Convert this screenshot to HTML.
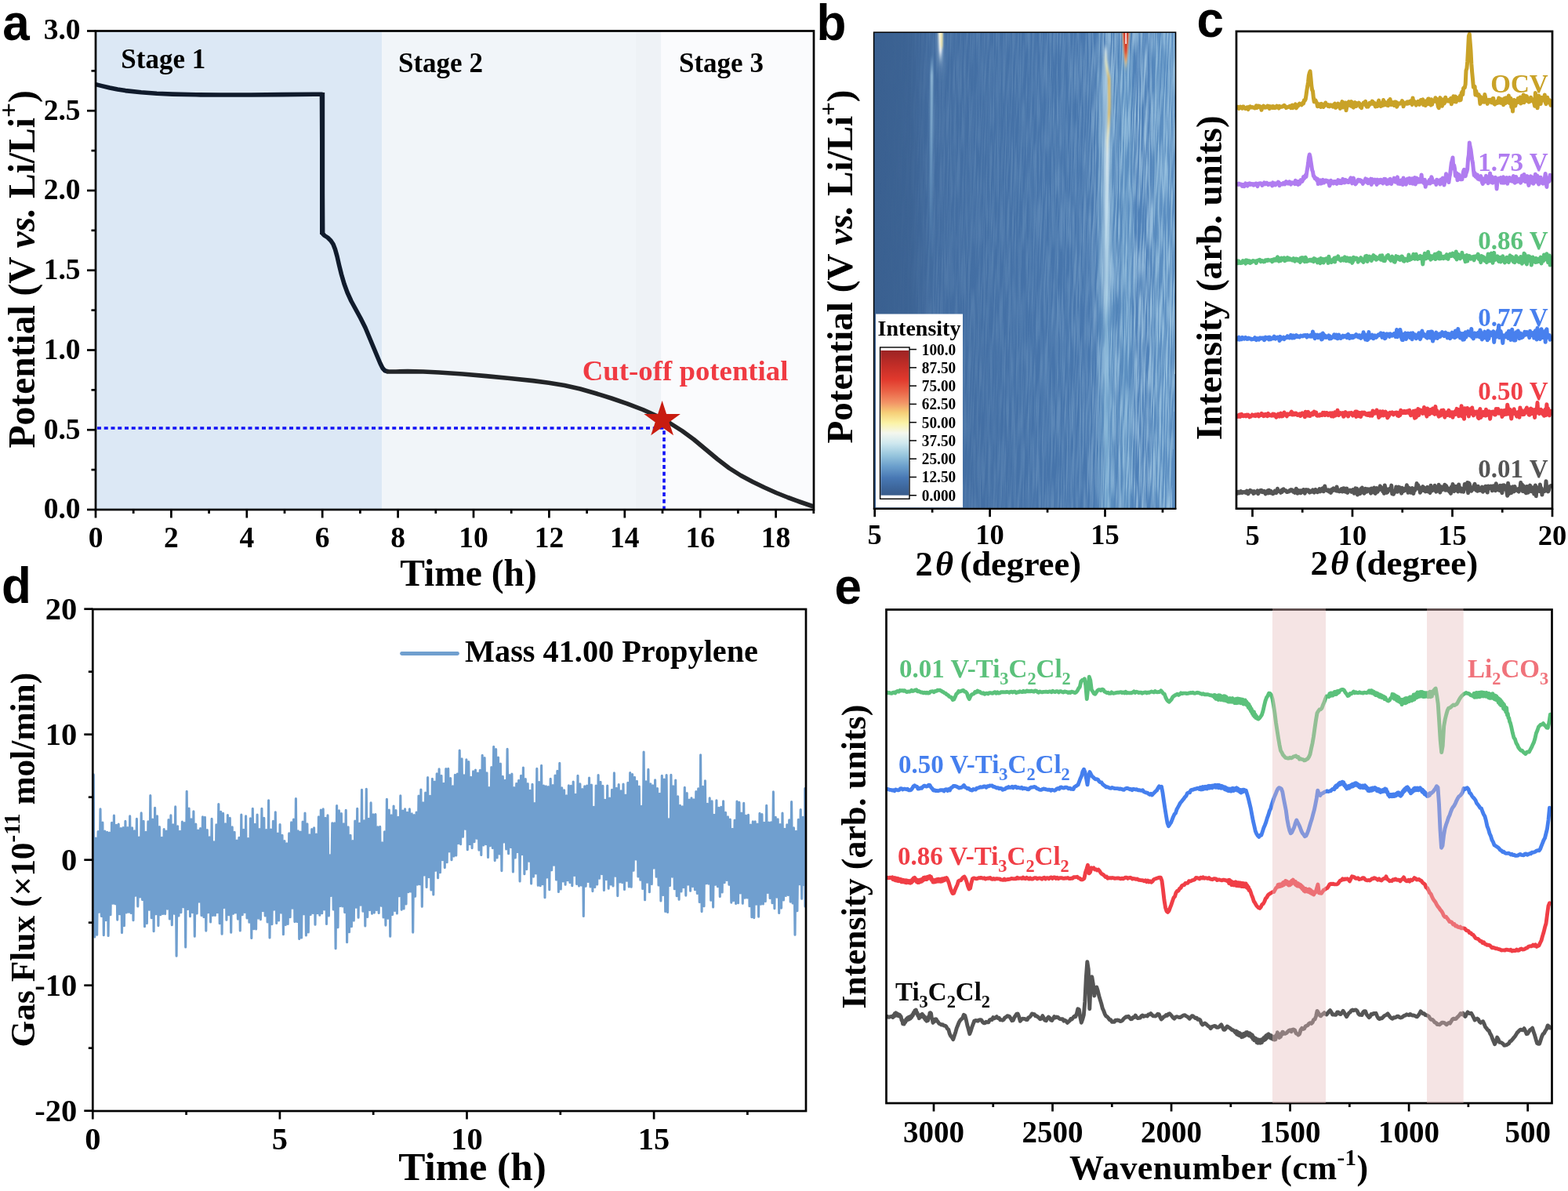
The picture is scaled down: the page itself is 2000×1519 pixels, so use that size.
<!DOCTYPE html>
<html lang="en"><head><meta charset="utf-8"><title>Figure</title>
<style>
html,body{margin:0;padding:0;background:#fff;}
body{width:2000px;height:1519px;overflow:hidden;}
svg{display:block;}
.sf{font-family:"Liberation Serif","Times New Roman",serif;font-weight:bold;}
.ss{font-family:"Liberation Sans",Arial,sans-serif;font-weight:bold;}
</style></head><body>
<svg width="2000" height="1519" viewBox="0 0 2000 1519" role="img" aria-label="Five-panel scientific figure">
<rect x="122" y="39.5" width="365.3" height="610.5" fill="#dce8f5"/>
<rect x="487.3" y="39.5" width="323.7" height="610.5" fill="#f1f5f9"/>
<rect x="811" y="39.5" width="32.39999999999998" height="610.5" fill="#eef2f6"/>
<rect x="843.4" y="39.5" width="194.60000000000002" height="610.5" fill="#fafbfd"/>
<path d="M124,546 H847 V650" fill="none" stroke="#1212f5" stroke-width="3.6" stroke-dasharray="5 3.75"/>
<polyline points="122.0,107.6 130.0,109.6 140.0,112.0 150.0,114.0 160.0,115.6 180.0,117.8 200.0,119.2 220.0,120.1 250.0,120.8 280.0,121.0 320.0,121.0 360.0,120.6 400.0,120.2 410.5,120.2 410.8,180.0 411.5,298.0 414.0,300.5 418.0,303.0 422.0,307.0 425.0,311.5 427.5,318.0 430.0,327.0 432.5,338.0 435.5,350.0 439.0,362.0 443.0,373.0 448.0,384.0 454.0,395.0 460.0,406.0 466.0,418.0 471.0,430.0 476.0,442.0 481.0,454.0 485.0,463.5 488.0,469.5 491.0,472.8 495.0,474.0" fill="none" stroke="#101b2c" stroke-width="5.6" stroke-linejoin="round" stroke-linecap="round" style="stroke-linecap:butt"/>
<polyline points="495.0,474.0 505.0,474.0 520.0,473.6 540.0,474.0 560.0,475.0 590.0,477.0 620.0,479.6 650.0,482.5 680.0,485.6 700.0,488.2 720.0,491.5 740.0,496.0 760.0,501.8 780.0,508.0 800.0,514.8 820.0,522.5 840.0,531.5 855.0,540.0 870.0,549.5 885.0,560.5 900.0,573.0 915.0,585.5 930.0,597.0 945.0,606.5 960.0,614.5 975.0,621.8 990.0,628.5 1005.0,634.5 1020.0,640.0 1036.0,645.5" fill="none" stroke="#232528" stroke-width="5.6" stroke-linejoin="round" stroke-linecap="round"/>
<line x1="411.1" y1="118" x2="411.1" y2="299" stroke="#101b2c" stroke-width="6.2"/>
<polygon points="844.6,511.0 850.1,527.9 867.9,527.9 853.5,538.4 859.0,555.3 844.6,544.9 830.2,555.3 835.7,538.4 821.3,527.9 839.1,527.9" fill="#c81c10"/>
<rect x="122" y="39.5" width="916" height="610.5" fill="none" stroke="#000" stroke-width="2.7"/>
<line x1="111" y1="650.0" x2="122" y2="650.0" stroke="#000" stroke-width="2.7"/>
<text class="sf" x="102.5" y="661.3" font-size="37.5" text-anchor="end">0.0</text>
<line x1="116.5" y1="599.125" x2="122" y2="599.125" stroke="#000" stroke-width="2.7"/>
<line x1="111" y1="548.25" x2="122" y2="548.25" stroke="#000" stroke-width="2.7"/>
<text class="sf" x="102.5" y="559.55" font-size="37.5" text-anchor="end">0.5</text>
<line x1="116.5" y1="497.375" x2="122" y2="497.375" stroke="#000" stroke-width="2.7"/>
<line x1="111" y1="446.5" x2="122" y2="446.5" stroke="#000" stroke-width="2.7"/>
<text class="sf" x="102.5" y="457.8" font-size="37.5" text-anchor="end">1.0</text>
<line x1="116.5" y1="395.625" x2="122" y2="395.625" stroke="#000" stroke-width="2.7"/>
<line x1="111" y1="344.75" x2="122" y2="344.75" stroke="#000" stroke-width="2.7"/>
<text class="sf" x="102.5" y="356.05" font-size="37.5" text-anchor="end">1.5</text>
<line x1="116.5" y1="293.875" x2="122" y2="293.875" stroke="#000" stroke-width="2.7"/>
<line x1="111" y1="243.0" x2="122" y2="243.0" stroke="#000" stroke-width="2.7"/>
<text class="sf" x="102.5" y="254.3" font-size="37.5" text-anchor="end">2.0</text>
<line x1="116.5" y1="192.125" x2="122" y2="192.125" stroke="#000" stroke-width="2.7"/>
<line x1="111" y1="141.25" x2="122" y2="141.25" stroke="#000" stroke-width="2.7"/>
<text class="sf" x="102.5" y="152.55" font-size="37.5" text-anchor="end">2.5</text>
<line x1="116.5" y1="90.375" x2="122" y2="90.375" stroke="#000" stroke-width="2.7"/>
<line x1="111" y1="39.5" x2="122" y2="39.5" stroke="#000" stroke-width="2.7"/>
<text class="sf" x="102.5" y="49.8" font-size="37.5" text-anchor="end">3.0</text>
<line x1="122.0" y1="650" x2="122.0" y2="660.5" stroke="#000" stroke-width="2.7"/>
<text class="sf" x="122.0" y="697.8" font-size="37.5" text-anchor="middle">0</text>
<line x1="170.2" y1="650" x2="170.2" y2="655" stroke="#000" stroke-width="2.7"/>
<line x1="218.4" y1="650" x2="218.4" y2="660.5" stroke="#000" stroke-width="2.7"/>
<text class="sf" x="218.4" y="697.8" font-size="37.5" text-anchor="middle">2</text>
<line x1="266.6" y1="650" x2="266.6" y2="655" stroke="#000" stroke-width="2.7"/>
<line x1="314.8" y1="650" x2="314.8" y2="660.5" stroke="#000" stroke-width="2.7"/>
<text class="sf" x="314.8" y="697.8" font-size="37.5" text-anchor="middle">4</text>
<line x1="363.0" y1="650" x2="363.0" y2="655" stroke="#000" stroke-width="2.7"/>
<line x1="411.20000000000005" y1="650" x2="411.20000000000005" y2="660.5" stroke="#000" stroke-width="2.7"/>
<text class="sf" x="411.20000000000005" y="697.8" font-size="37.5" text-anchor="middle">6</text>
<line x1="459.40000000000003" y1="650" x2="459.40000000000003" y2="655" stroke="#000" stroke-width="2.7"/>
<line x1="507.6" y1="650" x2="507.6" y2="660.5" stroke="#000" stroke-width="2.7"/>
<text class="sf" x="507.6" y="697.8" font-size="37.5" text-anchor="middle">8</text>
<line x1="555.8" y1="650" x2="555.8" y2="655" stroke="#000" stroke-width="2.7"/>
<line x1="604.0" y1="650" x2="604.0" y2="660.5" stroke="#000" stroke-width="2.7"/>
<text class="sf" x="604.0" y="697.8" font-size="37.5" text-anchor="middle">10</text>
<line x1="652.2" y1="650" x2="652.2" y2="655" stroke="#000" stroke-width="2.7"/>
<line x1="700.4000000000001" y1="650" x2="700.4000000000001" y2="660.5" stroke="#000" stroke-width="2.7"/>
<text class="sf" x="700.4000000000001" y="697.8" font-size="37.5" text-anchor="middle">12</text>
<line x1="748.6" y1="650" x2="748.6" y2="655" stroke="#000" stroke-width="2.7"/>
<line x1="796.8000000000001" y1="650" x2="796.8000000000001" y2="660.5" stroke="#000" stroke-width="2.7"/>
<text class="sf" x="796.8000000000001" y="697.8" font-size="37.5" text-anchor="middle">14</text>
<line x1="845.0" y1="650" x2="845.0" y2="655" stroke="#000" stroke-width="2.7"/>
<line x1="893.2" y1="650" x2="893.2" y2="660.5" stroke="#000" stroke-width="2.7"/>
<text class="sf" x="893.2" y="697.8" font-size="37.5" text-anchor="middle">16</text>
<line x1="941.4000000000001" y1="650" x2="941.4000000000001" y2="655" stroke="#000" stroke-width="2.7"/>
<line x1="989.6" y1="650" x2="989.6" y2="660.5" stroke="#000" stroke-width="2.7"/>
<text class="sf" x="989.6" y="697.8" font-size="37.5" text-anchor="middle">18</text>
<line x1="1037.8000000000002" y1="650" x2="1037.8000000000002" y2="655" stroke="#000" stroke-width="2.7"/>
<text class="sf" x="154.3" y="87.3" font-size="35">Stage 1</text>
<text class="sf" x="508" y="92" font-size="35">Stage 2</text>
<text class="sf" x="866" y="92" font-size="35">Stage 3</text>
<text class="sf" x="742.8" y="485" font-size="36.8" fill="#f03b43">Cut-off potential</text>
<text class="sf" x="597.5" y="747" font-size="47.5" text-anchor="middle">Time (h)</text>
<text class="sf" x="44" y="343.3" font-size="47.5" text-anchor="middle" transform="rotate(-90 44 343.3)">Potential (V <tspan font-style="italic">vs.</tspan> Li/Li<tspan font-size="33.5" dy="-21.5">+</tspan><tspan dy="21.5">)</tspan></text>
<text class="ss" font-size="62" transform="translate(3.3 50.8) scale(1 1.045)">a</text>
<defs><linearGradient id="hb" x1="0" x2="1" y1="0" y2="0"><stop offset="0" stop-color="#3a6090"/><stop offset="0.12" stop-color="#3c6394"/><stop offset="0.2" stop-color="#426ca0"/><stop offset="0.5" stop-color="#4572a8"/><stop offset="0.7" stop-color="#4877ae"/><stop offset="0.78" stop-color="#4d7fb6"/><stop offset="1" stop-color="#5284bb"/></linearGradient><linearGradient id="hm" x1="0" x2="1" y1="0" y2="0"><stop offset="0" stop-color="#fff" stop-opacity="0"/><stop offset="0.12" stop-color="#fff" stop-opacity="0.02"/><stop offset="0.2" stop-color="#fff" stop-opacity="0.1"/><stop offset="0.5" stop-color="#fff" stop-opacity="0.15"/><stop offset="0.7" stop-color="#fff" stop-opacity="0.24"/><stop offset="0.78" stop-color="#fff" stop-opacity="0.52"/><stop offset="1" stop-color="#fff" stop-opacity="0.64"/></linearGradient><mask id="hmk" maskUnits="userSpaceOnUse" x="1114" y="41" width="386" height="608"><rect x="1114" y="41" width="386" height="608" fill="url(#hm)"/></mask><linearGradient id="cb" x1="0" x2="0" y1="0" y2="1"><stop offset="0" stop-color="#9c2424"/><stop offset="0.1" stop-color="#c12d27"/><stop offset="0.2" stop-color="#e1392d"/><stop offset="0.28" stop-color="#ea6246"/><stop offset="0.36" stop-color="#f29466"/><stop offset="0.43" stop-color="#f6cf78"/><stop offset="0.5" stop-color="#fbf3a6"/><stop offset="0.57" stop-color="#f4f7ee"/><stop offset="0.64" stop-color="#cfe8ef"/><stop offset="0.72" stop-color="#99c7de"/><stop offset="0.8" stop-color="#6b9fcc"/><stop offset="0.88" stop-color="#4878b4"/><stop offset="0.95" stop-color="#3d669b"/><stop offset="1" stop-color="#395c8b"/></linearGradient><linearGradient id="pk1" gradientUnits="userSpaceOnUse" x1="0" x2="0" y1="41" y2="84"><stop offset="0" stop-color="#fffbe0"/><stop offset="0.55" stop-color="#ffffff" stop-opacity="0.95"/><stop offset="1" stop-color="#cfe8f4" stop-opacity="0.1"/></linearGradient><linearGradient id="pk2" gradientUnits="userSpaceOnUse" x1="0" x2="0" y1="70" y2="330"><stop offset="0" stop-color="#9fd0ea" stop-opacity="0"/><stop offset="0.1" stop-color="#b4dcf0" stop-opacity="0.75"/><stop offset="0.45" stop-color="#9ccbe8" stop-opacity="0.6"/><stop offset="1" stop-color="#7fb4dc" stop-opacity="0"/></linearGradient><linearGradient id="pk3" gradientUnits="userSpaceOnUse" x1="0" x2="0" y1="41" y2="86"><stop offset="0" stop-color="#d4261a"/><stop offset="0.55" stop-color="#dc3a22"/><stop offset="0.8" stop-color="#ee7a3c"/><stop offset="1" stop-color="#f8e090" stop-opacity="0.2"/></linearGradient><linearGradient id="pk4" gradientUnits="userSpaceOnUse" x1="0" x2="0" y1="56" y2="650"><stop offset="0" stop-color="#d8eef6" stop-opacity="0"/><stop offset="0.015" stop-color="#e4f2f4" stop-opacity="0.9"/><stop offset="0.05" stop-color="#f6eeb0" stop-opacity="0.95"/><stop offset="0.075" stop-color="#f3bc4c"/><stop offset="0.15" stop-color="#f4c458"/><stop offset="0.19" stop-color="#f8eec0"/><stop offset="0.24" stop-color="#f2f8f4" stop-opacity="0.95"/><stop offset="0.36" stop-color="#d6ecf4" stop-opacity="0.85"/><stop offset="0.55" stop-color="#b4daec" stop-opacity="0.6"/><stop offset="1" stop-color="#9ccbe6" stop-opacity="0.4"/></linearGradient><filter id="bl0" filterUnits="userSpaceOnUse" x="1100" y="20" width="420" height="650"><feGaussianBlur stdDeviation="0.9 2"/></filter><filter id="bl1" filterUnits="userSpaceOnUse" x="1100" y="20" width="420" height="650"><feGaussianBlur stdDeviation="1.3 3"/></filter><filter id="bl3" filterUnits="userSpaceOnUse" x="1100" y="20" width="420" height="650"><feGaussianBlur stdDeviation="2.6 12"/></filter><filter id="bl2" filterUnits="userSpaceOnUse" x="1100" y="20" width="420" height="650"><feGaussianBlur stdDeviation="4 8"/></filter><filter id="nz" x="0" y="0" width="100%" height="100%"><feTurbulence type="fractalNoise" baseFrequency="0.6 0.016" numOctaves="2" seed="4" result="t"/><feColorMatrix in="t" type="matrix" values="0 0 0 0 0.55  0 0 0 0 0.77  0 0 0 0 0.9  3.4 0 0 0 -1.3"/></filter><clipPath id="cpb"><rect x="1114" y="41.2" width="385.6" height="607.5"/></clipPath></defs>
<rect x="1114.6" y="41.2" width="385.0" height="607.5" fill="url(#hb)"/>
<g clip-path="url(#cpb)">
<g mask="url(#hmk)"><rect x="1114.6" y="41.2" width="385.0" height="607.5" filter="url(#nz)" transform="skewX(-1.2) translate(8 0)"/></g>
<rect x="1403" y="90" width="18" height="570" fill="#8fc4e2" opacity="0.3" filter="url(#bl2)"/>
<rect x="1406.5" y="66" width="9" height="330" fill="#d4e9f3" opacity="0.5" filter="url(#bl3)"/>
<rect x="1196.5" y="36" width="6" height="44" fill="#cfe6f4" opacity="0.5" filter="url(#bl3)"/>
<rect x="1430" y="60" width="12" height="600" fill="#8fc4e2" opacity="0.28" filter="url(#bl2)"/>
<rect x="1470" y="41" width="30" height="610" fill="#8fc4e2" opacity="0.16" filter="url(#bl2)"/>
<path d="M1188.6,72 L1188.3,120 L1187.8,200 L1187.2,330" fill="none" stroke="url(#pk2)" stroke-width="3" filter="url(#bl0)"/>
<polygon points="1196.6,38 1202.2,38 1201.2,64 1199.6,86 1198,64" fill="url(#pk1)" filter="url(#bl0)"/>
<rect x="1200.3" y="41" width="1.8" height="20" fill="#f8e27a" opacity="0.85" filter="url(#bl0)"/>
<path d="M1410,56 L1410.6,78 L1412.4,90 L1414.6,100 L1415,135 L1414,160 L1412.4,180 L1412,260 L1411.4,400 L1411,650" fill="none" stroke="url(#pk4)" stroke-width="3.2" opacity="0.85" filter="url(#bl0)"/>
<polygon points="1430.6,38 1441.4,38 1438.6,66 1436,90 1433.4,66" fill="#f7dc8c" opacity="0.75" filter="url(#bl1)"/>
<polygon points="1432.4,38 1439.6,38 1437.8,66 1436,84 1434.2,66" fill="url(#pk3)" filter="url(#bl0)"/>
<rect x="1435.3" y="41" width="1.7" height="15" fill="#fff" opacity="0.9"/>
</g>
<rect x="1117" y="400.5" width="111" height="246.8" fill="#fff"/>
<rect x="1122.6" y="443" width="37.4" height="193.3" fill="#fff" stroke="#000" stroke-width="1.4"/>
<rect x="1123.3" y="447" width="36" height="184.7" fill="url(#cb)"/>
<text class="sf" x="1172.5" y="427.5" font-size="28" text-anchor="middle">Intensity</text>
<line x1="1160" y1="445.6" x2="1169" y2="445.6" stroke="#000" stroke-width="1.5"/>
<text class="sf" x="1197.5" y="452.6" font-size="20.5" text-anchor="middle" textLength="43.5" lengthAdjust="spacingAndGlyphs">100.0</text>
<line x1="1160" y1="468.87" x2="1169" y2="468.87" stroke="#000" stroke-width="1.5"/>
<text class="sf" x="1197.5" y="475.87" font-size="20.5" text-anchor="middle" textLength="43.5" lengthAdjust="spacingAndGlyphs">87.50</text>
<line x1="1160" y1="492.14000000000004" x2="1169" y2="492.14000000000004" stroke="#000" stroke-width="1.5"/>
<text class="sf" x="1197.5" y="499.14000000000004" font-size="20.5" text-anchor="middle" textLength="43.5" lengthAdjust="spacingAndGlyphs">75.00</text>
<line x1="1160" y1="515.4100000000001" x2="1169" y2="515.4100000000001" stroke="#000" stroke-width="1.5"/>
<text class="sf" x="1197.5" y="522.4100000000001" font-size="20.5" text-anchor="middle" textLength="43.5" lengthAdjust="spacingAndGlyphs">62.50</text>
<line x1="1160" y1="538.6800000000001" x2="1169" y2="538.6800000000001" stroke="#000" stroke-width="1.5"/>
<text class="sf" x="1197.5" y="545.6800000000001" font-size="20.5" text-anchor="middle" textLength="43.5" lengthAdjust="spacingAndGlyphs">50.00</text>
<line x1="1160" y1="561.95" x2="1169" y2="561.95" stroke="#000" stroke-width="1.5"/>
<text class="sf" x="1197.5" y="568.95" font-size="20.5" text-anchor="middle" textLength="43.5" lengthAdjust="spacingAndGlyphs">37.50</text>
<line x1="1160" y1="585.22" x2="1169" y2="585.22" stroke="#000" stroke-width="1.5"/>
<text class="sf" x="1197.5" y="592.22" font-size="20.5" text-anchor="middle" textLength="43.5" lengthAdjust="spacingAndGlyphs">25.00</text>
<line x1="1160" y1="608.49" x2="1169" y2="608.49" stroke="#000" stroke-width="1.5"/>
<text class="sf" x="1197.5" y="615.49" font-size="20.5" text-anchor="middle" textLength="43.5" lengthAdjust="spacingAndGlyphs">12.50</text>
<line x1="1160" y1="631.76" x2="1169" y2="631.76" stroke="#000" stroke-width="1.5"/>
<text class="sf" x="1197.5" y="638.76" font-size="20.5" text-anchor="middle" textLength="43.5" lengthAdjust="spacingAndGlyphs">0.000</text>
<rect x="1114.6" y="41.2" width="385.0" height="607.5" fill="none" stroke="#000" stroke-width="1.5"/>
<line x1="1113.8" y1="648.9000000000001" x2="1500.3999999999999" y2="648.9000000000001" stroke="#000" stroke-width="2.4"/>
<line x1="1115.7" y1="648.7" x2="1115.7" y2="659.2" stroke="#000" stroke-width="2.7"/>
<text class="sf" x="1115.7" y="694.4" font-size="36.5" text-anchor="middle">5</text>
<line x1="1189.15" y1="648.7" x2="1189.15" y2="653.7" stroke="#000" stroke-width="2.7"/>
<line x1="1262.6000000000001" y1="648.7" x2="1262.6000000000001" y2="659.2" stroke="#000" stroke-width="2.7"/>
<text class="sf" x="1262.6000000000001" y="694.4" font-size="36.5" text-anchor="middle">10</text>
<line x1="1336.05" y1="648.7" x2="1336.05" y2="653.7" stroke="#000" stroke-width="2.7"/>
<line x1="1409.5" y1="648.7" x2="1409.5" y2="659.2" stroke="#000" stroke-width="2.7"/>
<text class="sf" x="1409.5" y="694.4" font-size="36.5" text-anchor="middle">15</text>
<line x1="1482.95" y1="648.7" x2="1482.95" y2="653.7" stroke="#000" stroke-width="2.7"/>
<text class="sf" y="734.2" font-size="44.4"><tspan x="1167.6">2</tspan><tspan x="1193.1" font-style="italic">θ</tspan><tspan x="1224.6">(degree)</tspan></text>
<text class="sf" x="1086.5" y="340" font-size="47.1" text-anchor="middle" transform="rotate(-90 1086.5 340)">Potential (V <tspan font-style="italic">vs.</tspan> Li/Li<tspan font-size="31" dy="-20">+</tspan><tspan dy="20">)</tspan></text>
<text class="ss" font-size="62" transform="translate(1041.6 50.5) scale(1 1.045)">b</text>
<polyline points="1578.5,136.3 1579.3,137.7 1580.2,138.3 1581.0,136.9 1581.9,136.1 1582.7,137.2 1583.6,137.7 1584.4,138.3 1585.3,136.1 1586.1,136.0 1587.0,137.9 1587.8,137.6 1588.7,138.6 1589.5,138.1 1590.4,137.0 1591.2,136.8 1592.1,139.6 1592.9,136.8 1593.8,136.2 1594.6,135.9 1595.5,137.1 1596.3,137.1 1597.2,136.6 1598.0,136.8 1598.9,137.2 1599.7,137.6 1600.6,138.0 1601.4,137.0 1602.3,134.9 1603.1,137.5 1604.0,135.2 1604.8,136.5 1605.7,135.1 1606.5,136.7 1607.4,135.8 1608.2,136.9 1609.1,140.3 1609.9,136.5 1610.8,137.5 1611.6,135.1 1612.5,136.2 1613.3,137.2 1614.2,136.4 1615.0,136.9 1615.9,136.5 1616.7,135.2 1617.6,137.0 1618.4,135.4 1619.3,138.5 1620.1,135.7 1621.0,137.1 1621.8,136.2 1622.7,137.4 1623.5,135.5 1624.4,137.4 1625.2,136.0 1626.1,137.7 1626.9,136.9 1627.8,136.2 1628.6,135.1 1629.5,137.0 1630.3,136.6 1631.2,138.0 1632.0,135.4 1632.9,136.6 1633.7,136.5 1634.6,136.2 1635.4,136.0 1636.3,136.0 1637.1,134.9 1638.0,134.3 1638.8,135.1 1639.7,136.4 1640.5,137.5 1641.4,136.8 1642.2,136.9 1643.1,136.4 1643.9,136.3 1644.8,135.5 1645.6,136.3 1646.5,137.6 1647.3,134.6 1648.2,134.1 1649.0,137.7 1649.9,135.2 1650.7,136.1 1651.6,135.9 1652.4,132.9 1653.3,137.9 1654.1,136.8 1655.0,134.3 1655.8,135.0 1656.7,133.8 1657.5,132.1 1658.4,132.9 1659.2,133.2 1660.1,133.9 1660.9,132.7 1661.8,131.0 1662.6,132.1 1663.5,127.7 1664.3,128.4 1665.2,126.7 1666.0,121.5 1666.9,114.9 1667.7,110.3 1668.6,104.3 1669.4,96.4 1670.3,93.0 1671.1,90.9 1672.0,99.8 1672.8,109.2 1673.7,114.8 1674.5,116.3 1675.4,124.9 1676.2,129.9 1677.1,129.6 1677.9,127.8 1678.8,129.7 1679.6,131.5 1680.5,135.8 1681.3,133.2 1682.2,132.8 1683.0,135.5 1683.9,133.0 1684.7,136.5 1685.6,132.4 1686.4,132.9 1687.3,135.1 1688.1,136.4 1689.0,135.1 1689.8,134.6 1690.7,131.0 1691.5,133.0 1692.4,133.2 1693.2,133.4 1694.1,135.4 1694.9,133.8 1695.8,135.8 1696.6,134.6 1697.5,133.9 1698.3,134.7 1699.2,135.3 1700.0,136.1 1700.9,133.7 1701.7,134.1 1702.6,132.0 1703.4,137.4 1704.3,137.1 1705.1,134.1 1706.0,133.5 1706.8,132.1 1707.7,134.7 1708.5,134.8 1709.4,138.4 1710.2,134.8 1711.1,132.8 1711.9,129.6 1712.8,136.9 1713.6,134.6 1714.5,131.1 1715.3,134.5 1716.2,131.0 1717.0,140.8 1717.9,136.2 1718.7,135.2 1719.6,133.7 1720.4,129.8 1721.3,133.7 1722.1,130.9 1723.0,135.1 1723.8,129.6 1724.7,132.0 1725.5,136.3 1726.4,137.1 1727.2,131.4 1728.1,130.6 1728.9,135.5 1729.8,135.4 1730.6,131.6 1731.5,132.2 1732.3,132.1 1733.2,131.1 1734.0,132.1 1734.9,136.1 1735.7,134.9 1736.6,137.7 1737.4,133.2 1738.3,133.1 1739.1,131.2 1740.0,133.0 1740.8,130.4 1741.7,129.4 1742.5,134.7 1743.4,136.2 1744.2,134.9 1745.1,136.0 1745.9,133.6 1746.8,131.4 1747.6,133.2 1748.5,132.1 1749.3,130.5 1750.2,129.1 1751.0,129.6 1751.9,132.8 1752.7,133.1 1753.6,131.7 1754.4,136.0 1755.3,133.1 1756.1,134.0 1757.0,135.4 1757.8,130.8 1758.7,128.1 1759.5,134.3 1760.4,131.0 1761.2,135.6 1762.1,133.3 1762.9,134.8 1763.8,134.2 1764.6,127.6 1765.5,134.1 1766.3,130.8 1767.2,130.6 1768.0,131.3 1768.9,134.1 1769.7,134.4 1770.6,134.7 1771.4,128.3 1772.3,130.8 1773.1,126.5 1774.0,131.9 1774.8,133.6 1775.7,130.3 1776.5,132.7 1777.4,132.6 1778.2,134.5 1779.1,130.0 1779.9,129.9 1780.8,130.1 1781.6,136.2 1782.5,134.6 1783.3,131.6 1784.2,132.4 1785.0,132.1 1785.9,132.3 1786.7,131.2 1787.6,130.9 1788.4,128.5 1789.3,130.0 1790.1,135.8 1791.0,133.0 1791.8,131.8 1792.7,131.0 1793.5,131.7 1794.4,132.4 1795.2,129.8 1796.1,132.0 1796.9,132.0 1797.8,129.4 1798.6,129.3 1799.5,128.7 1800.3,128.5 1801.2,133.6 1802.0,125.0 1802.9,130.5 1803.7,129.6 1804.6,129.5 1805.4,131.4 1806.3,134.1 1807.1,131.3 1808.0,130.6 1808.8,129.3 1809.7,130.6 1810.5,133.4 1811.4,129.8 1812.2,127.7 1813.1,127.4 1813.9,127.7 1814.8,126.9 1815.6,133.7 1816.5,131.7 1817.3,130.0 1818.2,134.6 1819.0,128.7 1819.9,132.6 1820.7,132.7 1821.6,126.1 1822.4,126.0 1823.3,127.8 1824.1,132.9 1825.0,134.0 1825.8,126.8 1826.7,133.2 1827.5,129.1 1828.4,129.0 1829.2,128.5 1830.1,129.1 1830.9,124.7 1831.8,127.0 1832.6,126.3 1833.5,131.3 1834.3,135.9 1835.2,137.7 1836.0,128.7 1836.9,124.6 1837.7,128.4 1838.6,126.7 1839.4,135.3 1840.3,131.1 1841.1,127.1 1842.0,132.0 1842.8,130.8 1843.7,124.2 1844.5,127.4 1845.4,128.2 1846.2,128.9 1847.1,129.1 1847.9,127.6 1848.8,129.1 1849.6,126.6 1850.5,125.5 1851.3,132.8 1852.2,129.1 1853.0,129.1 1853.9,122.7 1854.7,126.9 1855.6,129.7 1856.4,122.9 1857.3,130.0 1858.1,125.0 1859.0,127.1 1859.8,124.9 1860.7,125.5 1861.5,128.0 1862.4,122.2 1863.2,127.5 1864.1,119.0 1864.9,117.1 1865.8,120.5 1866.6,112.5 1867.5,111.7 1868.3,111.8 1869.2,107.2 1870.0,90.1 1870.9,87.3 1871.7,78.7 1872.6,62.0 1873.4,46.1 1874.3,43.3 1875.1,53.2 1876.0,64.6 1876.8,81.2 1877.7,92.5 1878.5,100.9 1879.4,111.3 1880.2,111.1 1881.1,110.3 1881.9,121.1 1882.8,116.0 1883.6,119.6 1884.5,121.8 1885.3,122.1 1886.2,120.6 1887.0,123.8 1887.9,132.6 1888.7,123.6 1889.6,125.6 1890.4,130.2 1891.3,129.2 1892.1,129.5 1893.0,130.1 1893.8,120.6 1894.7,124.5 1895.5,128.1 1896.4,129.5 1897.2,132.4 1898.1,129.6 1898.9,127.3 1899.8,128.3 1900.6,127.5 1901.5,129.2 1902.3,130.8 1903.2,127.2 1904.0,125.6 1904.9,125.5 1905.7,132.4 1906.6,133.1 1907.4,132.2 1908.3,131.7 1909.1,131.7 1910.0,128.7 1910.8,131.1 1911.7,125.0 1912.5,128.0 1913.4,126.1 1914.2,131.4 1915.1,126.7 1915.9,128.4 1916.8,130.3 1917.6,133.8 1918.5,125.9 1919.3,125.4 1920.2,131.8 1921.0,124.8 1921.9,130.5 1922.7,126.7 1923.6,128.5 1924.4,122.1 1925.3,131.5 1926.1,127.0 1927.0,125.5 1927.8,136.6 1928.7,131.5 1929.5,142.0 1930.4,130.4 1931.2,127.5 1932.1,129.2 1932.9,134.9 1933.8,128.7 1934.6,130.5 1935.5,130.8 1936.3,125.4 1937.2,129.3 1938.0,126.9 1938.9,124.0 1939.7,132.1 1940.6,131.4 1941.4,129.1 1942.3,125.3 1943.1,121.0 1944.0,130.7 1944.8,128.4 1945.7,122.2 1946.5,128.5 1947.4,122.8 1948.2,128.6 1949.1,129.3 1949.9,130.1 1950.8,129.6 1951.6,129.4 1952.5,124.2 1953.3,127.2 1954.2,126.7 1955.0,127.7 1955.9,129.7 1956.7,131.1 1957.6,135.2 1958.4,118.4 1959.3,130.2 1960.1,127.8 1961.0,137.8 1961.8,132.4 1962.7,121.9 1963.5,130.2 1964.4,126.5 1965.2,132.6 1966.1,124.3 1966.9,128.1 1967.8,128.0 1968.6,128.1 1969.5,126.1 1970.3,121.0 1971.2,130.4 1972.0,132.6 1972.9,128.2 1973.7,124.3 1974.6,129.3 1975.4,130.8 1976.3,127.7 1977.1,128.4 1978.0,134.3" fill="none" stroke="#c9a227" stroke-width="5.0" stroke-linejoin="round" stroke-linecap="round"/>
<polyline points="1578.5,234.9 1579.3,235.4 1580.2,234.1 1581.0,235.2 1581.9,235.1 1582.7,234.9 1583.6,235.1 1584.4,237.4 1585.3,235.5 1586.1,235.5 1587.0,237.7 1587.8,235.5 1588.7,233.9 1589.5,235.9 1590.4,234.6 1591.2,237.1 1592.1,234.2 1592.9,234.8 1593.8,233.8 1594.6,235.4 1595.5,234.3 1596.3,235.2 1597.2,234.9 1598.0,234.6 1598.9,236.2 1599.7,236.1 1600.6,235.2 1601.4,234.1 1602.3,233.9 1603.1,235.3 1604.0,237.6 1604.8,234.5 1605.7,234.1 1606.5,234.2 1607.4,233.7 1608.2,233.8 1609.1,234.6 1609.9,236.4 1610.8,234.8 1611.6,234.1 1612.5,232.9 1613.3,234.9 1614.2,234.6 1615.0,233.2 1615.9,233.3 1616.7,234.5 1617.6,235.7 1618.4,235.2 1619.3,234.7 1620.1,234.0 1621.0,234.7 1621.8,234.3 1622.7,236.9 1623.5,232.9 1624.4,233.8 1625.2,235.7 1626.1,233.8 1626.9,235.9 1627.8,234.0 1628.6,234.2 1629.5,233.6 1630.3,232.2 1631.2,232.7 1632.0,236.7 1632.9,234.7 1633.7,234.6 1634.6,235.0 1635.4,234.5 1636.3,235.0 1637.1,233.3 1638.0,233.3 1638.8,234.9 1639.7,233.1 1640.5,231.7 1641.4,233.1 1642.2,232.7 1643.1,234.2 1643.9,232.3 1644.8,231.8 1645.6,232.7 1646.5,235.2 1647.3,233.0 1648.2,233.2 1649.0,232.9 1649.9,233.2 1650.7,234.0 1651.6,234.6 1652.4,230.2 1653.3,234.4 1654.1,232.3 1655.0,231.7 1655.8,235.5 1656.7,231.6 1657.5,234.5 1658.4,232.8 1659.2,229.6 1660.1,231.5 1660.9,231.4 1661.8,229.6 1662.6,225.5 1663.5,227.6 1664.3,226.5 1665.2,223.4 1666.0,225.5 1666.9,219.0 1667.7,214.1 1668.6,208.2 1669.4,200.9 1670.3,197.0 1671.1,199.9 1672.0,205.9 1672.8,211.1 1673.7,217.1 1674.5,218.9 1675.4,224.7 1676.2,224.7 1677.1,227.6 1677.9,226.9 1678.8,228.3 1679.6,230.0 1680.5,228.2 1681.3,234.6 1682.2,230.8 1683.0,230.9 1683.9,230.0 1684.7,234.1 1685.6,233.9 1686.4,232.1 1687.3,229.4 1688.1,230.9 1689.0,232.9 1689.8,231.0 1690.7,229.9 1691.5,229.9 1692.4,230.7 1693.2,232.1 1694.1,230.9 1694.9,232.1 1695.8,237.0 1696.6,235.3 1697.5,230.3 1698.3,232.7 1699.2,232.3 1700.0,231.9 1700.9,234.0 1701.7,231.5 1702.6,231.5 1703.4,231.4 1704.3,231.9 1705.1,234.4 1706.0,233.5 1706.8,229.6 1707.7,231.2 1708.5,230.5 1709.4,233.5 1710.2,232.4 1711.1,233.6 1711.9,231.8 1712.8,228.3 1713.6,232.8 1714.5,232.3 1715.3,232.8 1716.2,229.3 1717.0,232.0 1717.9,230.5 1718.7,230.4 1719.6,232.5 1720.4,232.4 1721.3,230.0 1722.1,228.3 1723.0,226.8 1723.8,230.5 1724.7,233.9 1725.5,231.5 1726.4,227.1 1727.2,229.8 1728.1,232.4 1728.9,234.9 1729.8,233.9 1730.6,232.2 1731.5,231.8 1732.3,229.2 1733.2,230.5 1734.0,230.7 1734.9,229.7 1735.7,231.5 1736.6,230.5 1737.4,232.0 1738.3,234.3 1739.1,232.8 1740.0,232.1 1740.8,230.7 1741.7,227.9 1742.5,230.9 1743.4,232.3 1744.2,228.9 1745.1,233.8 1745.9,230.3 1746.8,231.8 1747.6,230.3 1748.5,228.2 1749.3,235.5 1750.2,228.4 1751.0,233.0 1751.9,229.7 1752.7,231.6 1753.6,229.2 1754.4,230.0 1755.3,233.0 1756.1,235.4 1757.0,229.1 1757.8,231.0 1758.7,233.2 1759.5,229.6 1760.4,232.6 1761.2,229.2 1762.1,232.4 1762.9,232.1 1763.8,233.9 1764.6,231.9 1765.5,228.3 1766.3,232.6 1767.2,228.5 1768.0,232.9 1768.9,234.7 1769.7,232.5 1770.6,229.8 1771.4,234.0 1772.3,231.5 1773.1,228.2 1774.0,230.3 1774.8,234.6 1775.7,230.4 1776.5,231.5 1777.4,230.3 1778.2,227.1 1779.1,229.9 1779.9,232.1 1780.8,231.7 1781.6,230.8 1782.5,225.9 1783.3,234.3 1784.2,233.0 1785.0,233.8 1785.9,234.5 1786.7,230.1 1787.6,229.7 1788.4,232.1 1789.3,235.5 1790.1,227.0 1791.0,230.7 1791.8,229.5 1792.7,232.7 1793.5,235.1 1794.4,230.6 1795.2,228.1 1796.1,231.5 1796.9,230.6 1797.8,227.3 1798.6,233.7 1799.5,230.0 1800.3,233.1 1801.2,227.9 1802.0,234.2 1802.9,227.5 1803.7,234.1 1804.6,226.5 1805.4,235.0 1806.3,230.3 1807.1,227.1 1808.0,230.7 1808.8,232.2 1809.7,228.6 1810.5,230.0 1811.4,232.0 1812.2,230.8 1813.1,222.9 1813.9,230.1 1814.8,232.4 1815.6,232.1 1816.5,234.0 1817.3,229.3 1818.2,238.3 1819.0,233.4 1819.9,232.1 1820.7,234.2 1821.6,233.9 1822.4,231.5 1823.3,229.4 1824.1,234.0 1825.0,232.3 1825.8,225.7 1826.7,227.9 1827.5,232.4 1828.4,231.3 1829.2,231.8 1830.1,232.8 1830.9,231.4 1831.8,235.5 1832.6,229.2 1833.5,229.7 1834.3,231.7 1835.2,232.9 1836.0,233.0 1836.9,235.0 1837.7,229.1 1838.6,233.9 1839.4,231.7 1840.3,227.1 1841.1,229.6 1842.0,236.0 1842.8,231.9 1843.7,227.9 1844.5,221.7 1845.4,226.2 1846.2,225.6 1847.1,227.1 1847.9,232.6 1848.8,226.1 1849.6,222.2 1850.5,214.4 1851.3,207.9 1852.2,204.7 1853.0,201.0 1853.9,215.1 1854.7,210.7 1855.6,215.4 1856.4,224.4 1857.3,223.5 1858.1,220.9 1859.0,229.8 1859.8,225.4 1860.7,222.6 1861.5,227.9 1862.4,228.5 1863.2,225.8 1864.1,228.8 1864.9,228.8 1865.8,222.9 1866.6,218.4 1867.5,216.3 1868.3,222.2 1869.2,224.7 1870.0,221.3 1870.9,218.9 1871.7,215.4 1872.6,202.5 1873.4,197.7 1874.3,182.0 1875.1,186.9 1876.0,190.5 1876.8,197.0 1877.7,203.7 1878.5,207.8 1879.4,216.5 1880.2,223.5 1881.1,220.4 1881.9,225.1 1882.8,222.5 1883.6,226.5 1884.5,223.0 1885.3,228.3 1886.2,226.8 1887.0,229.0 1887.9,226.2 1888.7,224.5 1889.6,227.6 1890.4,232.4 1891.3,234.4 1892.1,228.0 1893.0,232.0 1893.8,232.0 1894.7,230.8 1895.5,224.2 1896.4,230.7 1897.2,226.3 1898.1,233.8 1898.9,232.5 1899.8,231.9 1900.6,220.9 1901.5,232.0 1902.3,232.3 1903.2,225.4 1904.0,233.3 1904.9,230.2 1905.7,229.2 1906.6,227.4 1907.4,226.3 1908.3,228.4 1909.1,240.9 1910.0,230.6 1910.8,230.7 1911.7,227.6 1912.5,227.7 1913.4,227.9 1914.2,226.7 1915.1,233.1 1915.9,228.9 1916.8,233.1 1917.6,225.7 1918.5,233.3 1919.3,229.8 1920.2,232.3 1921.0,229.5 1921.9,226.6 1922.7,234.3 1923.6,228.2 1924.4,229.3 1925.3,226.5 1926.1,230.6 1927.0,228.4 1927.8,230.8 1928.7,231.1 1929.5,227.2 1930.4,224.5 1931.2,231.4 1932.1,233.2 1932.9,232.4 1933.8,225.4 1934.6,232.0 1935.5,231.2 1936.3,230.8 1937.2,231.3 1938.0,228.4 1938.9,230.5 1939.7,233.2 1940.6,227.7 1941.4,224.1 1942.3,229.2 1943.1,230.3 1944.0,222.4 1944.8,226.9 1945.7,231.8 1946.5,228.9 1947.4,229.9 1948.2,224.6 1949.1,233.0 1949.9,236.4 1950.8,228.7 1951.6,226.6 1952.5,224.9 1953.3,232.9 1954.2,229.8 1955.0,226.2 1955.9,234.2 1956.7,232.4 1957.6,231.8 1958.4,222.3 1959.3,228.9 1960.1,231.8 1961.0,224.3 1961.8,233.0 1962.7,235.0 1963.5,233.4 1964.4,226.3 1965.2,226.3 1966.1,233.0 1966.9,233.2 1967.8,234.2 1968.6,234.1 1969.5,228.7 1970.3,227.4 1971.2,221.5 1972.0,232.3 1972.9,238.5 1973.7,227.1 1974.6,227.1 1975.4,231.7 1976.3,230.6 1977.1,223.3 1978.0,226.0" fill="none" stroke="#b07cf0" stroke-width="5.0" stroke-linejoin="round" stroke-linecap="round"/>
<polyline points="1578.5,332.9 1579.3,335.7 1580.2,333.2 1581.0,334.6 1581.9,335.6 1582.7,335.5 1583.6,335.1 1584.4,335.2 1585.3,332.5 1586.1,333.3 1587.0,332.9 1587.8,333.3 1588.7,336.1 1589.5,331.9 1590.4,334.0 1591.2,332.2 1592.1,334.7 1592.9,334.6 1593.8,332.8 1594.6,335.4 1595.5,333.3 1596.3,334.5 1597.2,333.5 1598.0,332.6 1598.9,332.7 1599.7,332.9 1600.6,333.7 1601.4,333.1 1602.3,335.5 1603.1,332.7 1604.0,332.4 1604.8,332.1 1605.7,332.0 1606.5,331.2 1607.4,331.7 1608.2,333.7 1609.1,332.7 1609.9,332.5 1610.8,333.0 1611.6,333.8 1612.5,333.2 1613.3,333.4 1614.2,331.8 1615.0,332.1 1615.9,331.5 1616.7,332.3 1617.6,331.4 1618.4,331.9 1619.3,332.1 1620.1,332.0 1621.0,331.9 1621.8,331.6 1622.7,333.7 1623.5,331.7 1624.4,330.8 1625.2,332.3 1626.1,330.6 1626.9,330.6 1627.8,332.0 1628.6,329.8 1629.5,327.8 1630.3,332.2 1631.2,333.1 1632.0,329.6 1632.9,330.6 1633.7,332.4 1634.6,329.1 1635.4,330.5 1636.3,330.0 1637.1,331.3 1638.0,328.9 1638.8,332.6 1639.7,331.2 1640.5,331.8 1641.4,330.9 1642.2,328.5 1643.1,331.1 1643.9,329.4 1644.8,331.2 1645.6,330.0 1646.5,330.7 1647.3,330.8 1648.2,332.1 1649.0,332.1 1649.9,329.6 1650.7,331.0 1651.6,333.1 1652.4,331.7 1653.3,330.0 1654.1,330.9 1655.0,330.6 1655.8,332.5 1656.7,331.2 1657.5,331.7 1658.4,334.4 1659.2,329.1 1660.1,329.7 1660.9,328.6 1661.8,328.8 1662.6,332.5 1663.5,331.7 1664.3,333.7 1665.2,328.3 1666.0,329.9 1666.9,333.5 1667.7,332.9 1668.6,332.7 1669.4,332.7 1670.3,331.4 1671.1,331.3 1672.0,331.4 1672.8,332.7 1673.7,331.1 1674.5,331.9 1675.4,333.7 1676.2,329.6 1677.1,330.2 1677.9,332.4 1678.8,331.1 1679.6,331.2 1680.5,334.9 1681.3,332.2 1682.2,330.8 1683.0,333.3 1683.9,335.6 1684.7,329.5 1685.6,330.3 1686.4,331.6 1687.3,330.3 1688.1,335.0 1689.0,332.2 1689.8,330.6 1690.7,332.1 1691.5,329.9 1692.4,330.2 1693.2,331.4 1694.1,335.4 1694.9,327.2 1695.8,331.9 1696.6,333.5 1697.5,332.4 1698.3,334.5 1699.2,331.9 1700.0,331.3 1700.9,330.8 1701.7,329.5 1702.6,334.0 1703.4,328.8 1704.3,330.8 1705.1,330.0 1706.0,329.5 1706.8,326.8 1707.7,330.2 1708.5,331.1 1709.4,331.1 1710.2,332.4 1711.1,330.5 1711.9,329.6 1712.8,331.4 1713.6,332.0 1714.5,329.0 1715.3,327.8 1716.2,328.8 1717.0,332.7 1717.9,332.6 1718.7,328.9 1719.6,330.9 1720.4,332.3 1721.3,333.2 1722.1,329.3 1723.0,330.1 1723.8,333.4 1724.7,335.3 1725.5,333.6 1726.4,328.2 1727.2,331.4 1728.1,329.9 1728.9,330.3 1729.8,329.1 1730.6,329.4 1731.5,330.4 1732.3,334.1 1733.2,331.8 1734.0,331.2 1734.9,330.4 1735.7,328.7 1736.6,329.8 1737.4,332.9 1738.3,332.0 1739.1,334.4 1740.0,330.8 1740.8,330.2 1741.7,326.7 1742.5,331.0 1743.4,326.4 1744.2,333.4 1745.1,328.7 1745.9,330.1 1746.8,327.1 1747.6,329.0 1748.5,328.0 1749.3,332.5 1750.2,330.5 1751.0,327.4 1751.9,325.7 1752.7,329.8 1753.6,328.8 1754.4,327.4 1755.3,331.2 1756.1,329.5 1757.0,330.1 1757.8,328.5 1758.7,328.5 1759.5,328.8 1760.4,326.1 1761.2,331.2 1762.1,330.7 1762.9,325.8 1763.8,330.0 1764.6,332.4 1765.5,330.2 1766.3,332.7 1767.2,329.0 1768.0,329.6 1768.9,326.6 1769.7,327.5 1770.6,325.3 1771.4,327.4 1772.3,330.1 1773.1,330.8 1774.0,332.3 1774.8,329.8 1775.7,327.1 1776.5,330.5 1777.4,329.1 1778.2,333.8 1779.1,334.2 1779.9,331.8 1780.8,326.6 1781.6,328.1 1782.5,329.8 1783.3,327.6 1784.2,330.6 1785.0,331.0 1785.9,331.4 1786.7,329.8 1787.6,327.0 1788.4,327.1 1789.3,328.9 1790.1,332.6 1791.0,333.2 1791.8,331.7 1792.7,330.1 1793.5,330.9 1794.4,331.2 1795.2,332.4 1796.1,331.3 1796.9,325.1 1797.8,331.5 1798.6,330.0 1799.5,327.8 1800.3,330.4 1801.2,329.7 1802.0,328.7 1802.9,324.3 1803.7,329.0 1804.6,330.2 1805.4,328.5 1806.3,324.3 1807.1,329.7 1808.0,330.4 1808.8,328.9 1809.7,329.5 1810.5,327.3 1811.4,326.4 1812.2,329.6 1813.1,327.1 1813.9,328.5 1814.8,336.9 1815.6,329.9 1816.5,328.2 1817.3,323.3 1818.2,328.0 1819.0,329.8 1819.9,325.6 1820.7,326.9 1821.6,321.2 1822.4,329.0 1823.3,325.7 1824.1,329.2 1825.0,331.1 1825.8,326.7 1826.7,329.9 1827.5,327.8 1828.4,326.4 1829.2,326.1 1830.1,324.4 1830.9,330.5 1831.8,329.3 1832.6,323.8 1833.5,329.1 1834.3,324.5 1835.2,322.1 1836.0,330.0 1836.9,322.7 1837.7,329.8 1838.6,326.9 1839.4,328.9 1840.3,327.7 1841.1,329.6 1842.0,327.1 1842.8,327.7 1843.7,326.7 1844.5,329.2 1845.4,324.6 1846.2,328.8 1847.1,330.3 1847.9,325.5 1848.8,326.9 1849.6,324.0 1850.5,324.7 1851.3,326.5 1852.2,324.7 1853.0,323.2 1853.9,325.9 1854.7,326.7 1855.6,327.2 1856.4,328.5 1857.3,320.9 1858.1,330.9 1859.0,326.1 1859.8,324.3 1860.7,325.7 1861.5,328.3 1862.4,329.8 1863.2,326.0 1864.1,327.8 1864.9,322.3 1865.8,328.0 1866.6,327.2 1867.5,326.3 1868.3,330.6 1869.2,333.7 1870.0,331.3 1870.9,325.5 1871.7,333.1 1872.6,327.1 1873.4,328.1 1874.3,326.4 1875.1,329.8 1876.0,330.2 1876.8,328.9 1877.7,327.8 1878.5,328.1 1879.4,327.3 1880.2,331.9 1881.1,327.0 1881.9,328.3 1882.8,328.2 1883.6,326.4 1884.5,328.2 1885.3,324.1 1886.2,330.5 1887.0,331.0 1887.9,328.2 1888.7,334.5 1889.6,326.5 1890.4,331.2 1891.3,331.0 1892.1,327.7 1893.0,328.7 1893.8,332.6 1894.7,329.9 1895.5,330.7 1896.4,334.6 1897.2,330.6 1898.1,324.1 1898.9,327.4 1899.8,332.9 1900.6,329.6 1901.5,326.3 1902.3,323.1 1903.2,331.2 1904.0,335.3 1904.9,325.7 1905.7,322.4 1906.6,331.8 1907.4,328.2 1908.3,329.1 1909.1,329.0 1910.0,326.9 1910.8,331.7 1911.7,333.4 1912.5,331.5 1913.4,328.2 1914.2,333.9 1915.1,329.8 1915.9,332.3 1916.8,326.8 1917.6,332.6 1918.5,332.9 1919.3,334.9 1920.2,330.4 1921.0,331.9 1921.9,328.2 1922.7,333.5 1923.6,333.1 1924.4,334.3 1925.3,328.9 1926.1,325.8 1927.0,330.1 1927.8,329.6 1928.7,327.6 1929.5,332.6 1930.4,333.9 1931.2,331.9 1932.1,334.6 1932.9,331.9 1933.8,326.8 1934.6,328.2 1935.5,329.1 1936.3,333.0 1937.2,334.0 1938.0,331.0 1938.9,334.3 1939.7,327.4 1940.6,330.1 1941.4,336.2 1942.3,332.2 1943.1,334.5 1944.0,323.3 1944.8,324.2 1945.7,327.3 1946.5,334.5 1947.4,336.9 1948.2,328.2 1949.1,326.8 1949.9,326.7 1950.8,327.2 1951.6,332.8 1952.5,329.4 1953.3,338.0 1954.2,333.5 1955.0,328.0 1955.9,331.6 1956.7,330.1 1957.6,333.8 1958.4,334.3 1959.3,329.4 1960.1,334.3 1961.0,333.0 1961.8,330.4 1962.7,331.8 1963.5,333.5 1964.4,329.5 1965.2,328.1 1966.1,335.9 1966.9,330.9 1967.8,328.5 1968.6,332.7 1969.5,324.9 1970.3,331.1 1971.2,325.4 1972.0,329.2 1972.9,323.7 1973.7,328.0 1974.6,334.6 1975.4,330.2 1976.3,326.0 1977.1,338.1 1978.0,328.4" fill="none" stroke="#5bc17b" stroke-width="5.0" stroke-linejoin="round" stroke-linecap="round"/>
<polyline points="1578.5,432.8 1579.3,431.1 1580.2,430.2 1581.0,433.2 1581.9,431.2 1582.7,432.3 1583.6,432.7 1584.4,430.4 1585.3,431.7 1586.1,431.1 1587.0,432.2 1587.8,431.6 1588.7,430.4 1589.5,431.7 1590.4,432.4 1591.2,431.4 1592.1,432.2 1592.9,431.2 1593.8,431.7 1594.6,432.1 1595.5,431.9 1596.3,433.0 1597.2,432.7 1598.0,432.6 1598.9,432.5 1599.7,431.9 1600.6,430.6 1601.4,432.9 1602.3,433.6 1603.1,432.0 1604.0,431.6 1604.8,431.8 1605.7,433.1 1606.5,432.2 1607.4,430.8 1608.2,431.7 1609.1,431.1 1609.9,431.7 1610.8,430.9 1611.6,431.0 1612.5,433.6 1613.3,433.1 1614.2,430.1 1615.0,430.9 1615.9,431.5 1616.7,431.5 1617.6,430.4 1618.4,433.0 1619.3,430.1 1620.1,432.8 1621.0,432.7 1621.8,431.4 1622.7,431.0 1623.5,431.8 1624.4,431.8 1625.2,429.1 1626.1,430.0 1626.9,432.1 1627.8,431.3 1628.6,430.8 1629.5,430.0 1630.3,430.3 1631.2,430.2 1632.0,434.5 1632.9,429.4 1633.7,432.8 1634.6,431.4 1635.4,431.0 1636.3,431.0 1637.1,430.2 1638.0,432.6 1638.8,431.2 1639.7,430.4 1640.5,430.2 1641.4,430.6 1642.2,428.7 1643.1,429.7 1643.9,429.3 1644.8,430.9 1645.6,430.8 1646.5,427.4 1647.3,429.5 1648.2,431.1 1649.0,427.9 1649.9,428.0 1650.7,430.9 1651.6,429.3 1652.4,428.8 1653.3,427.7 1654.1,429.5 1655.0,428.4 1655.8,429.4 1656.7,429.7 1657.5,430.0 1658.4,428.5 1659.2,428.1 1660.1,428.8 1660.9,428.6 1661.8,428.9 1662.6,427.8 1663.5,428.2 1664.3,427.6 1665.2,427.5 1666.0,428.6 1666.9,430.0 1667.7,427.4 1668.6,429.0 1669.4,428.6 1670.3,428.2 1671.1,429.1 1672.0,427.3 1672.8,429.1 1673.7,428.7 1674.5,422.9 1675.4,428.9 1676.2,429.4 1677.1,431.6 1677.9,426.9 1678.8,428.8 1679.6,429.2 1680.5,427.2 1681.3,430.7 1682.2,429.6 1683.0,427.6 1683.9,427.0 1684.7,428.3 1685.6,433.0 1686.4,432.7 1687.3,425.1 1688.1,426.2 1689.0,430.4 1689.8,429.2 1690.7,428.3 1691.5,430.5 1692.4,429.7 1693.2,430.1 1694.1,430.1 1694.9,427.8 1695.8,432.0 1696.6,429.0 1697.5,431.8 1698.3,431.1 1699.2,430.0 1700.0,430.3 1700.9,429.9 1701.7,426.7 1702.6,429.4 1703.4,430.7 1704.3,427.0 1705.1,427.2 1706.0,431.8 1706.8,431.3 1707.7,427.0 1708.5,430.6 1709.4,429.6 1710.2,431.5 1711.1,429.1 1711.9,429.2 1712.8,428.2 1713.6,429.9 1714.5,429.3 1715.3,428.3 1716.2,428.9 1717.0,428.1 1717.9,430.7 1718.7,427.5 1719.6,426.4 1720.4,427.5 1721.3,431.5 1722.1,428.4 1723.0,430.6 1723.8,430.7 1724.7,428.3 1725.5,430.7 1726.4,430.2 1727.2,429.1 1728.1,427.8 1728.9,429.0 1729.8,426.5 1730.6,428.5 1731.5,427.9 1732.3,429.9 1733.2,429.7 1734.0,427.7 1734.9,430.7 1735.7,431.4 1736.6,429.0 1737.4,427.4 1738.3,429.9 1739.1,423.8 1740.0,427.6 1740.8,430.0 1741.7,433.0 1742.5,427.2 1743.4,431.9 1744.2,433.6 1745.1,432.7 1745.9,423.6 1746.8,431.0 1747.6,429.0 1748.5,430.7 1749.3,428.1 1750.2,427.2 1751.0,428.0 1751.9,431.8 1752.7,430.3 1753.6,427.8 1754.4,429.3 1755.3,430.4 1756.1,429.7 1757.0,428.3 1757.8,427.0 1758.7,426.8 1759.5,427.4 1760.4,427.2 1761.2,424.8 1762.1,425.2 1762.9,430.4 1763.8,425.8 1764.6,425.3 1765.5,428.3 1766.3,431.7 1767.2,431.3 1768.0,427.4 1768.9,425.9 1769.7,427.1 1770.6,426.2 1771.4,427.0 1772.3,429.4 1773.1,425.7 1774.0,426.4 1774.8,427.6 1775.7,428.2 1776.5,426.4 1777.4,426.3 1778.2,425.5 1779.1,426.4 1779.9,429.5 1780.8,427.6 1781.6,420.6 1782.5,429.7 1783.3,428.0 1784.2,426.0 1785.0,427.5 1785.9,420.6 1786.7,424.0 1787.6,431.0 1788.4,433.5 1789.3,433.6 1790.1,426.2 1791.0,428.2 1791.8,430.1 1792.7,424.9 1793.5,432.5 1794.4,426.2 1795.2,429.0 1796.1,425.1 1796.9,429.0 1797.8,428.0 1798.6,430.8 1799.5,425.0 1800.3,428.0 1801.2,432.8 1802.0,424.8 1802.9,428.9 1803.7,429.1 1804.6,426.6 1805.4,427.2 1806.3,431.7 1807.1,430.9 1808.0,429.4 1808.8,428.5 1809.7,424.8 1810.5,428.0 1811.4,432.6 1812.2,430.6 1813.1,424.0 1813.9,422.1 1814.8,425.9 1815.6,428.1 1816.5,426.2 1817.3,426.8 1818.2,428.6 1819.0,430.1 1819.9,428.2 1820.7,431.1 1821.6,423.6 1822.4,428.9 1823.3,428.7 1824.1,423.3 1825.0,431.1 1825.8,422.9 1826.7,423.3 1827.5,435.1 1828.4,431.1 1829.2,428.5 1830.1,431.3 1830.9,430.7 1831.8,424.1 1832.6,428.8 1833.5,431.4 1834.3,426.8 1835.2,427.5 1836.0,425.9 1836.9,429.4 1837.7,425.6 1838.6,425.5 1839.4,423.6 1840.3,424.4 1841.1,427.8 1842.0,428.6 1842.8,426.0 1843.7,424.0 1844.5,428.1 1845.4,428.2 1846.2,430.9 1847.1,425.6 1847.9,425.8 1848.8,428.6 1849.6,431.7 1850.5,426.8 1851.3,426.8 1852.2,424.1 1853.0,425.8 1853.9,429.9 1854.7,429.6 1855.6,430.5 1856.4,421.9 1857.3,429.6 1858.1,424.1 1859.0,428.9 1859.8,419.5 1860.7,426.7 1861.5,424.2 1862.4,431.0 1863.2,427.4 1864.1,431.2 1864.9,425.6 1865.8,433.3 1866.6,425.6 1867.5,433.1 1868.3,425.4 1869.2,423.8 1870.0,429.9 1870.9,425.7 1871.7,426.8 1872.6,422.6 1873.4,425.9 1874.3,427.4 1875.1,424.7 1876.0,428.3 1876.8,419.4 1877.7,430.0 1878.5,425.6 1879.4,431.9 1880.2,425.8 1881.1,424.8 1881.9,425.5 1882.8,427.9 1883.6,429.0 1884.5,425.4 1885.3,424.3 1886.2,428.5 1887.0,429.8 1887.9,421.0 1888.7,423.4 1889.6,424.7 1890.4,432.9 1891.3,431.2 1892.1,429.8 1893.0,428.7 1893.8,423.1 1894.7,430.9 1895.5,425.5 1896.4,424.2 1897.2,433.8 1898.1,421.9 1898.9,431.9 1899.8,427.7 1900.6,423.7 1901.5,427.6 1902.3,424.0 1903.2,427.6 1904.0,424.7 1904.9,422.7 1905.7,436.4 1906.6,425.1 1907.4,430.5 1908.3,426.7 1909.1,429.3 1910.0,422.3 1910.8,423.1 1911.7,415.0 1912.5,430.5 1913.4,428.5 1914.2,422.5 1915.1,429.9 1915.9,429.0 1916.8,437.6 1917.6,427.7 1918.5,430.2 1919.3,429.0 1920.2,429.6 1921.0,426.7 1921.9,425.2 1922.7,429.4 1923.6,431.3 1924.4,422.3 1925.3,422.4 1926.1,426.5 1927.0,433.5 1927.8,425.9 1928.7,420.2 1929.5,429.7 1930.4,429.5 1931.2,434.0 1932.1,427.3 1932.9,434.1 1933.8,423.8 1934.6,430.1 1935.5,427.1 1936.3,422.0 1937.2,425.5 1938.0,431.7 1938.9,430.9 1939.7,425.0 1940.6,430.8 1941.4,430.0 1942.3,430.0 1943.1,427.6 1944.0,427.7 1944.8,423.2 1945.7,426.2 1946.5,426.9 1947.4,423.5 1948.2,425.3 1949.1,427.1 1949.9,427.2 1950.8,430.6 1951.6,422.3 1952.5,424.8 1953.3,427.4 1954.2,424.8 1955.0,427.7 1955.9,424.4 1956.7,431.1 1957.6,425.4 1958.4,421.7 1959.3,429.3 1960.1,433.0 1961.0,418.4 1961.8,425.7 1962.7,426.5 1963.5,430.5 1964.4,432.4 1965.2,425.6 1966.1,419.8 1966.9,428.9 1967.8,430.3 1968.6,428.1 1969.5,426.5 1970.3,422.8 1971.2,436.3 1972.0,421.1 1972.9,419.8 1973.7,430.2 1974.6,427.3 1975.4,428.9 1976.3,427.6 1977.1,433.2 1978.0,432.1" fill="none" stroke="#4880ee" stroke-width="5.0" stroke-linejoin="round" stroke-linecap="round"/>
<polyline points="1578.5,530.0 1579.3,531.4 1580.2,529.3 1581.0,528.8 1581.9,531.5 1582.7,529.9 1583.6,528.3 1584.4,530.3 1585.3,529.6 1586.1,530.7 1587.0,530.2 1587.8,529.5 1588.7,529.5 1589.5,530.9 1590.4,529.2 1591.2,530.2 1592.1,529.1 1592.9,530.5 1593.8,531.8 1594.6,530.6 1595.5,531.1 1596.3,530.4 1597.2,529.0 1598.0,529.6 1598.9,530.0 1599.7,530.3 1600.6,529.2 1601.4,530.5 1602.3,529.0 1603.1,529.9 1604.0,529.8 1604.8,528.5 1605.7,530.8 1606.5,529.8 1607.4,529.8 1608.2,529.6 1609.1,527.3 1609.9,528.0 1610.8,528.6 1611.6,530.7 1612.5,528.9 1613.3,530.2 1614.2,528.3 1615.0,528.5 1615.9,528.9 1616.7,530.7 1617.6,527.4 1618.4,529.2 1619.3,529.8 1620.1,529.5 1621.0,529.3 1621.8,530.2 1622.7,529.6 1623.5,528.0 1624.4,530.0 1625.2,528.2 1626.1,528.7 1626.9,530.9 1627.8,532.2 1628.6,530.9 1629.5,529.6 1630.3,528.1 1631.2,528.1 1632.0,531.1 1632.9,529.4 1633.7,527.2 1634.6,531.0 1635.4,529.7 1636.3,530.6 1637.1,529.4 1638.0,526.0 1638.8,527.8 1639.7,528.6 1640.5,528.5 1641.4,530.8 1642.2,527.8 1643.1,528.6 1643.9,528.6 1644.8,528.5 1645.6,527.2 1646.5,526.9 1647.3,525.0 1648.2,529.0 1649.0,528.3 1649.9,528.8 1650.7,527.0 1651.6,528.5 1652.4,527.1 1653.3,527.0 1654.1,529.0 1655.0,529.4 1655.8,529.3 1656.7,528.4 1657.5,527.9 1658.4,530.5 1659.2,530.3 1660.1,527.5 1660.9,526.8 1661.8,529.0 1662.6,528.9 1663.5,527.0 1664.3,531.8 1665.2,525.2 1666.0,527.1 1666.9,528.7 1667.7,529.9 1668.6,525.4 1669.4,527.6 1670.3,530.6 1671.1,530.5 1672.0,527.9 1672.8,528.3 1673.7,526.9 1674.5,528.9 1675.4,526.6 1676.2,525.0 1677.1,525.8 1677.9,528.3 1678.8,526.1 1679.6,530.0 1680.5,530.3 1681.3,529.9 1682.2,529.3 1683.0,530.1 1683.9,528.6 1684.7,529.6 1685.6,528.9 1686.4,529.5 1687.3,526.4 1688.1,527.0 1689.0,526.4 1689.8,529.5 1690.7,529.0 1691.5,526.7 1692.4,526.4 1693.2,527.1 1694.1,529.6 1694.9,527.9 1695.8,527.6 1696.6,526.8 1697.5,527.8 1698.3,530.9 1699.2,526.8 1700.0,527.4 1700.9,531.1 1701.7,529.3 1702.6,525.9 1703.4,530.0 1704.3,525.6 1705.1,529.0 1706.0,523.3 1706.8,526.1 1707.7,529.6 1708.5,526.8 1709.4,526.6 1710.2,528.0 1711.1,527.9 1711.9,527.0 1712.8,526.6 1713.6,531.3 1714.5,530.7 1715.3,528.5 1716.2,525.6 1717.0,526.8 1717.9,527.3 1718.7,528.8 1719.6,531.0 1720.4,526.8 1721.3,528.1 1722.1,526.9 1723.0,528.1 1723.8,526.4 1724.7,528.5 1725.5,530.1 1726.4,527.0 1727.2,527.1 1728.1,528.0 1728.9,525.0 1729.8,531.4 1730.6,525.0 1731.5,527.0 1732.3,525.9 1733.2,530.8 1734.0,526.7 1734.9,526.6 1735.7,531.6 1736.6,527.4 1737.4,526.0 1738.3,527.6 1739.1,528.0 1740.0,526.0 1740.8,527.2 1741.7,527.1 1742.5,529.1 1743.4,529.2 1744.2,529.4 1745.1,527.3 1745.9,529.3 1746.8,527.1 1747.6,530.1 1748.5,528.4 1749.3,526.6 1750.2,530.2 1751.0,524.1 1751.9,525.3 1752.7,525.7 1753.6,527.1 1754.4,524.7 1755.3,524.7 1756.1,523.1 1757.0,527.6 1757.8,525.6 1758.7,532.4 1759.5,529.1 1760.4,524.7 1761.2,530.3 1762.1,527.5 1762.9,529.8 1763.8,524.7 1764.6,529.9 1765.5,529.8 1766.3,526.2 1767.2,525.2 1768.0,526.3 1768.9,527.8 1769.7,532.9 1770.6,531.4 1771.4,530.7 1772.3,526.5 1773.1,526.3 1774.0,527.9 1774.8,526.4 1775.7,525.9 1776.5,526.5 1777.4,529.0 1778.2,526.8 1779.1,527.5 1779.9,526.3 1780.8,526.4 1781.6,526.1 1782.5,530.0 1783.3,527.4 1784.2,530.6 1785.0,526.4 1785.9,529.5 1786.7,523.3 1787.6,525.7 1788.4,526.6 1789.3,525.1 1790.1,526.4 1791.0,524.3 1791.8,526.3 1792.7,524.9 1793.5,526.6 1794.4,525.9 1795.2,524.0 1796.1,525.5 1796.9,526.7 1797.8,523.2 1798.6,526.8 1799.5,529.8 1800.3,525.9 1801.2,528.0 1802.0,528.2 1802.9,524.4 1803.7,530.0 1804.6,533.2 1805.4,523.7 1806.3,532.2 1807.1,524.5 1808.0,530.4 1808.8,521.5 1809.7,529.5 1810.5,526.8 1811.4,522.9 1812.2,524.1 1813.1,523.5 1813.9,523.9 1814.8,527.4 1815.6,525.9 1816.5,519.4 1817.3,525.5 1818.2,527.6 1819.0,526.6 1819.9,531.1 1820.7,521.1 1821.6,527.0 1822.4,526.4 1823.3,528.3 1824.1,522.5 1825.0,522.5 1825.8,525.8 1826.7,526.5 1827.5,521.0 1828.4,527.3 1829.2,526.2 1830.1,528.3 1830.9,518.6 1831.8,527.7 1832.6,523.6 1833.5,524.8 1834.3,528.5 1835.2,531.1 1836.0,526.6 1836.9,525.8 1837.7,530.0 1838.6,523.5 1839.4,525.7 1840.3,524.6 1841.1,523.2 1842.0,526.7 1842.8,532.2 1843.7,526.8 1844.5,527.6 1845.4,526.0 1846.2,529.5 1847.1,526.6 1847.9,523.4 1848.8,526.3 1849.6,530.4 1850.5,525.8 1851.3,529.7 1852.2,525.8 1853.0,532.3 1853.9,526.9 1854.7,528.1 1855.6,525.1 1856.4,528.6 1857.3,525.3 1858.1,521.4 1859.0,527.0 1859.8,522.2 1860.7,530.7 1861.5,528.5 1862.4,526.1 1863.2,528.2 1864.1,517.7 1864.9,530.9 1865.8,523.9 1866.6,528.2 1867.5,534.3 1868.3,520.8 1869.2,524.7 1870.0,527.1 1870.9,527.4 1871.7,520.5 1872.6,523.0 1873.4,530.9 1874.3,524.1 1875.1,527.8 1876.0,521.5 1876.8,523.0 1877.7,520.0 1878.5,526.9 1879.4,529.9 1880.2,526.3 1881.1,525.1 1881.9,526.8 1882.8,527.6 1883.6,525.0 1884.5,527.9 1885.3,532.6 1886.2,533.6 1887.0,524.1 1887.9,521.7 1888.7,532.6 1889.6,529.4 1890.4,530.2 1891.3,528.1 1892.1,525.3 1893.0,529.4 1893.8,529.9 1894.7,530.1 1895.5,522.3 1896.4,529.6 1897.2,524.8 1898.1,524.8 1898.9,527.3 1899.8,524.8 1900.6,534.2 1901.5,528.0 1902.3,526.9 1903.2,525.3 1904.0,526.9 1904.9,525.2 1905.7,528.0 1906.6,529.0 1907.4,528.9 1908.3,521.4 1909.1,524.7 1910.0,526.2 1910.8,521.5 1911.7,527.3 1912.5,525.4 1913.4,526.1 1914.2,527.2 1915.1,523.6 1915.9,531.5 1916.8,529.6 1917.6,523.8 1918.5,527.5 1919.3,528.5 1920.2,523.0 1921.0,524.5 1921.9,528.3 1922.7,516.2 1923.6,520.8 1924.4,527.0 1925.3,528.0 1926.1,522.2 1927.0,528.9 1927.8,534.0 1928.7,526.5 1929.5,525.5 1930.4,525.9 1931.2,521.8 1932.1,527.7 1932.9,526.3 1933.8,528.5 1934.6,531.1 1935.5,525.7 1936.3,526.3 1937.2,526.8 1938.0,532.3 1938.9,519.9 1939.7,525.5 1940.6,523.1 1941.4,526.0 1942.3,528.7 1943.1,525.8 1944.0,528.4 1944.8,526.2 1945.7,522.7 1946.5,522.9 1947.4,520.0 1948.2,526.3 1949.1,523.9 1949.9,528.7 1950.8,529.2 1951.6,521.9 1952.5,521.1 1953.3,527.8 1954.2,521.9 1955.0,526.2 1955.9,527.8 1956.7,523.8 1957.6,532.5 1958.4,522.2 1959.3,527.0 1960.1,523.6 1961.0,513.6 1961.8,524.6 1962.7,524.6 1963.5,527.6 1964.4,524.7 1965.2,522.2 1966.1,523.1 1966.9,524.0 1967.8,528.3 1968.6,524.1 1969.5,530.3 1970.3,528.7 1971.2,522.1 1972.0,529.4 1972.9,515.7 1973.7,525.2 1974.6,521.0 1975.4,524.7 1976.3,529.9 1977.1,525.1 1978.0,524.4" fill="none" stroke="#f03f47" stroke-width="5.0" stroke-linejoin="round" stroke-linecap="round"/>
<polyline points="1578.5,629.1 1579.3,627.3 1580.2,627.2 1581.0,628.8 1581.9,628.5 1582.7,626.6 1583.6,628.0 1584.4,628.6 1585.3,627.7 1586.1,627.4 1587.0,627.9 1587.8,628.0 1588.7,627.1 1589.5,628.6 1590.4,626.2 1591.2,627.6 1592.1,629.8 1592.9,626.6 1593.8,627.6 1594.6,625.4 1595.5,626.8 1596.3,626.4 1597.2,627.7 1598.0,627.1 1598.9,629.5 1599.7,626.6 1600.6,627.5 1601.4,627.7 1602.3,628.2 1603.1,628.4 1604.0,625.8 1604.8,629.8 1605.7,627.1 1606.5,626.6 1607.4,625.6 1608.2,626.9 1609.1,625.4 1609.9,627.5 1610.8,626.6 1611.6,627.7 1612.5,626.4 1613.3,627.3 1614.2,629.8 1615.0,628.6 1615.9,627.4 1616.7,626.0 1617.6,628.9 1618.4,625.2 1619.3,625.5 1620.1,628.7 1621.0,626.4 1621.8,628.7 1622.7,627.8 1623.5,629.7 1624.4,629.2 1625.2,627.7 1626.1,626.2 1626.9,627.7 1627.8,628.7 1628.6,627.1 1629.5,623.3 1630.3,626.4 1631.2,626.4 1632.0,626.8 1632.9,626.4 1633.7,628.3 1634.6,625.2 1635.4,627.4 1636.3,624.2 1637.1,623.9 1638.0,625.4 1638.8,625.7 1639.7,625.5 1640.5,625.8 1641.4,627.5 1642.2,627.4 1643.1,626.8 1643.9,626.9 1644.8,625.7 1645.6,625.2 1646.5,624.6 1647.3,626.0 1648.2,625.0 1649.0,626.1 1649.9,627.5 1650.7,627.3 1651.6,628.4 1652.4,625.1 1653.3,623.3 1654.1,624.8 1655.0,629.3 1655.8,627.4 1656.7,625.7 1657.5,628.3 1658.4,625.7 1659.2,628.8 1660.1,625.7 1660.9,625.7 1661.8,627.3 1662.6,624.5 1663.5,626.0 1664.3,629.2 1665.2,626.9 1666.0,624.5 1666.9,625.8 1667.7,626.1 1668.6,625.0 1669.4,626.8 1670.3,628.0 1671.1,626.2 1672.0,627.5 1672.8,626.5 1673.7,626.2 1674.5,624.8 1675.4,627.5 1676.2,628.2 1677.1,625.2 1677.9,624.5 1678.8,626.8 1679.6,626.1 1680.5,627.7 1681.3,626.7 1682.2,625.6 1683.0,623.5 1683.9,626.9 1684.7,626.0 1685.6,623.7 1686.4,623.3 1687.3,622.7 1688.1,626.8 1689.0,625.0 1689.8,620.0 1690.7,624.2 1691.5,624.6 1692.4,625.5 1693.2,625.7 1694.1,625.0 1694.9,626.9 1695.8,627.4 1696.6,625.2 1697.5,628.4 1698.3,625.3 1699.2,624.0 1700.0,625.8 1700.9,622.9 1701.7,625.0 1702.6,623.6 1703.4,624.7 1704.3,625.9 1705.1,621.0 1706.0,626.2 1706.8,626.0 1707.7,625.1 1708.5,626.8 1709.4,626.1 1710.2,624.8 1711.1,623.6 1711.9,626.9 1712.8,626.9 1713.6,622.7 1714.5,624.1 1715.3,623.2 1716.2,627.1 1717.0,624.4 1717.9,623.1 1718.7,628.4 1719.6,626.4 1720.4,626.0 1721.3,626.0 1722.1,625.1 1723.0,625.6 1723.8,627.3 1724.7,626.4 1725.5,624.6 1726.4,625.7 1727.2,629.3 1728.1,624.4 1728.9,622.8 1729.8,625.7 1730.6,623.2 1731.5,630.9 1732.3,626.8 1733.2,626.7 1734.0,626.3 1734.9,629.6 1735.7,623.4 1736.6,625.4 1737.4,622.0 1738.3,628.1 1739.1,625.3 1740.0,629.2 1740.8,624.9 1741.7,623.3 1742.5,624.0 1743.4,627.2 1744.2,623.7 1745.1,626.0 1745.9,623.9 1746.8,623.9 1747.6,624.3 1748.5,629.1 1749.3,623.1 1750.2,626.2 1751.0,627.3 1751.9,623.8 1752.7,622.1 1753.6,628.8 1754.4,629.3 1755.3,624.9 1756.1,622.7 1757.0,627.4 1757.8,625.3 1758.7,623.5 1759.5,624.5 1760.4,619.9 1761.2,623.5 1762.1,622.5 1762.9,622.3 1763.8,626.7 1764.6,626.0 1765.5,629.3 1766.3,619.0 1767.2,623.7 1768.0,623.3 1768.9,628.4 1769.7,627.7 1770.6,625.6 1771.4,625.5 1772.3,623.4 1773.1,624.0 1774.0,624.1 1774.8,619.1 1775.7,629.8 1776.5,627.0 1777.4,630.3 1778.2,628.2 1779.1,626.4 1779.9,627.2 1780.8,621.0 1781.6,622.6 1782.5,627.3 1783.3,624.2 1784.2,621.1 1785.0,625.1 1785.9,621.9 1786.7,625.1 1787.6,629.1 1788.4,622.2 1789.3,623.9 1790.1,626.5 1791.0,625.0 1791.8,625.5 1792.7,622.8 1793.5,624.1 1794.4,618.8 1795.2,624.5 1796.1,628.3 1796.9,622.0 1797.8,624.5 1798.6,626.8 1799.5,628.2 1800.3,628.0 1801.2,622.5 1802.0,623.8 1802.9,629.5 1803.7,623.5 1804.6,625.5 1805.4,622.5 1806.3,622.9 1807.1,616.6 1808.0,623.1 1808.8,618.6 1809.7,621.8 1810.5,621.8 1811.4,628.2 1812.2,626.6 1813.1,625.5 1813.9,622.9 1814.8,620.5 1815.6,625.6 1816.5,622.0 1817.3,623.9 1818.2,626.9 1819.0,623.6 1819.9,624.1 1820.7,621.3 1821.6,627.0 1822.4,625.5 1823.3,626.0 1824.1,628.6 1825.0,619.3 1825.8,624.0 1826.7,625.7 1827.5,624.8 1828.4,624.7 1829.2,625.1 1830.1,619.3 1830.9,623.5 1831.8,627.1 1832.6,623.5 1833.5,623.0 1834.3,626.0 1835.2,618.3 1836.0,624.7 1836.9,628.0 1837.7,622.7 1838.6,620.9 1839.4,624.9 1840.3,621.9 1841.1,620.8 1842.0,623.7 1842.8,618.2 1843.7,625.2 1844.5,619.5 1845.4,621.4 1846.2,625.3 1847.1,622.9 1847.9,623.8 1848.8,627.2 1849.6,627.6 1850.5,629.3 1851.3,621.1 1852.2,625.6 1853.0,617.5 1853.9,625.1 1854.7,626.6 1855.6,620.2 1856.4,623.9 1857.3,625.0 1858.1,621.8 1859.0,620.2 1859.8,626.9 1860.7,617.9 1861.5,622.5 1862.4,625.0 1863.2,622.6 1864.1,626.9 1864.9,626.5 1865.8,623.2 1866.6,627.3 1867.5,624.0 1868.3,617.4 1869.2,620.3 1870.0,622.2 1870.9,621.9 1871.7,615.6 1872.6,628.7 1873.4,615.9 1874.3,617.2 1875.1,622.4 1876.0,621.7 1876.8,626.3 1877.7,622.0 1878.5,622.6 1879.4,623.9 1880.2,619.1 1881.1,617.3 1881.9,620.2 1882.8,625.3 1883.6,621.0 1884.5,626.3 1885.3,620.3 1886.2,624.8 1887.0,622.5 1887.9,625.4 1888.7,622.6 1889.6,623.4 1890.4,621.2 1891.3,627.2 1892.1,622.9 1893.0,624.8 1893.8,625.5 1894.7,620.2 1895.5,620.5 1896.4,623.3 1897.2,628.1 1898.1,620.0 1898.9,620.2 1899.8,620.4 1900.6,622.5 1901.5,620.1 1902.3,621.0 1903.2,625.8 1904.0,620.0 1904.9,623.9 1905.7,619.7 1906.6,623.2 1907.4,625.8 1908.3,616.7 1909.1,624.1 1910.0,624.7 1910.8,623.7 1911.7,624.9 1912.5,625.4 1913.4,619.2 1914.2,623.5 1915.1,626.3 1915.9,628.7 1916.8,618.9 1917.6,621.7 1918.5,618.9 1919.3,623.9 1920.2,620.0 1921.0,620.3 1921.9,626.8 1922.7,632.3 1923.6,616.2 1924.4,630.1 1925.3,620.5 1926.1,626.5 1927.0,625.3 1927.8,628.6 1928.7,623.2 1929.5,620.8 1930.4,623.7 1931.2,626.9 1932.1,620.5 1932.9,625.5 1933.8,623.9 1934.6,624.6 1935.5,624.0 1936.3,626.3 1937.2,627.0 1938.0,622.8 1938.9,622.6 1939.7,615.6 1940.6,620.5 1941.4,618.0 1942.3,626.6 1943.1,619.7 1944.0,621.2 1944.8,626.0 1945.7,627.9 1946.5,628.7 1947.4,620.6 1948.2,624.9 1949.1,628.2 1949.9,620.6 1950.8,623.0 1951.6,619.1 1952.5,621.4 1953.3,626.8 1954.2,624.3 1955.0,622.5 1955.9,621.7 1956.7,630.1 1957.6,627.0 1958.4,618.9 1959.3,632.7 1960.1,622.3 1961.0,623.3 1961.8,621.9 1962.7,621.6 1963.5,626.6 1964.4,618.0 1965.2,624.1 1966.1,622.6 1966.9,631.1 1967.8,625.6 1968.6,625.7 1969.5,626.1 1970.3,626.4 1971.2,624.5 1972.0,613.7 1972.9,625.7 1973.7,622.6 1974.6,626.9 1975.4,625.2 1976.3,621.7 1977.1,620.2 1978.0,619.7" fill="none" stroke="#555555" stroke-width="5.0" stroke-linejoin="round" stroke-linecap="round"/>
<text class="sf" x="1974.6" y="118.3" font-size="33" text-anchor="end" fill="#c9a227">OCV</text>
<text class="sf" x="1974.6" y="217.8" font-size="33" text-anchor="end" fill="#b07cf0">1.73 V</text>
<text class="sf" x="1974.6" y="317.8" font-size="33" text-anchor="end" fill="#5bc17b">0.86 V</text>
<text class="sf" x="1974.6" y="415.8" font-size="33" text-anchor="end" fill="#4880ee">0.77 V</text>
<text class="sf" x="1974.6" y="509.8" font-size="33" text-anchor="end" fill="#f03f47">0.50 V</text>
<text class="sf" x="1974.6" y="608.8" font-size="33" text-anchor="end" fill="#555555">0.01 V</text>
<rect x="1577" y="40" width="403" height="608.7" fill="none" stroke="#000" stroke-width="2.7"/>
<line x1="1597.5" y1="648.7" x2="1597.5" y2="659.2" stroke="#000" stroke-width="2.7"/>
<text class="sf" x="1597.5" y="694.8" font-size="36.5" text-anchor="middle">5</text>
<line x1="1661.25" y1="648.7" x2="1661.25" y2="653.7" stroke="#000" stroke-width="2.7"/>
<line x1="1725.0" y1="648.7" x2="1725.0" y2="659.2" stroke="#000" stroke-width="2.7"/>
<text class="sf" x="1725.0" y="694.8" font-size="36.5" text-anchor="middle">10</text>
<line x1="1788.75" y1="648.7" x2="1788.75" y2="653.7" stroke="#000" stroke-width="2.7"/>
<line x1="1852.5" y1="648.7" x2="1852.5" y2="659.2" stroke="#000" stroke-width="2.7"/>
<text class="sf" x="1852.5" y="694.8" font-size="36.5" text-anchor="middle">15</text>
<line x1="1916.25" y1="648.7" x2="1916.25" y2="653.7" stroke="#000" stroke-width="2.7"/>
<line x1="1980.0" y1="648.7" x2="1980.0" y2="659.2" stroke="#000" stroke-width="2.7"/>
<text class="sf" x="1980.0" y="694.8" font-size="36.5" text-anchor="middle">20</text>
<text class="sf" y="733.2" font-size="45"><tspan x="1671.6">2</tspan><tspan x="1697.1" font-style="italic">θ</tspan><tspan x="1728.6">(degree)</tspan></text>
<text class="sf" x="1557.8" y="354.4" font-size="47" text-anchor="middle" transform="rotate(-90 1557.8 354.4)">Intensity (arb. units)</text>
<text class="ss" font-size="62" transform="translate(1526.5 47) scale(1 1.045)">c</text>
<clipPath id="cpd"><rect x="118.3" y="777" width="909.7" height="640"/></clipPath>
<polyline points="119.3,987.9 119.9,1157.5 119.3,1063.4 120.8,1194.9 122.2,1069.0 123.7,1192.3 125.1,1060.6 126.6,1163.2 128.0,1031.9 129.4,1168.5 130.9,1049.0 132.3,1192.7 133.8,1060.0 135.2,1173.6 136.7,1061.2 138.1,1193.5 139.6,1062.0 141.0,1166.7 142.5,1049.3 143.9,1152.2 145.4,1040.1 146.8,1152.7 148.3,1052.2 149.7,1173.1 151.2,1051.0 152.6,1165.7 154.1,1056.5 155.5,1189.6 157.0,1055.6 158.4,1180.8 159.9,1047.4 161.3,1164.0 162.8,1055.6 164.2,1163.3 165.7,1040.9 167.1,1164.5 168.6,1055.9 170.0,1173.7 171.5,1059.9 172.9,1142.3 174.4,1044.4 175.8,1155.9 177.3,1068.0 178.7,1143.9 180.2,1036.9 181.6,1147.4 183.1,1047.3 184.5,1181.7 186.0,1061.4 187.4,1177.6 188.9,1047.8 190.3,1160.3 191.8,1014.6 193.2,1170.8 194.7,1045.1 196.1,1187.8 197.6,1030.3 199.0,1165.8 200.5,1040.8 201.9,1180.6 203.4,1054.6 204.8,1166.7 206.3,1068.4 207.7,1165.5 209.2,1057.5 210.6,1165.6 212.1,1060.1 213.5,1159.1 215.0,1045.5 216.4,1171.9 217.9,1039.9 219.3,1179.8 220.8,1051.9 222.2,1165.2 223.7,1028.9 225.1,1219.3 226.6,1053.8 228.0,1167.9 229.5,1060.4 230.9,1163.8 232.4,1048.0 233.8,1156.7 235.3,1049.5 236.7,1207.9 238.2,1009.3 239.6,1159.4 241.1,1031.1 242.5,1168.7 244.0,1044.8 245.4,1163.6 246.9,1034.8 248.3,1194.3 249.8,1051.1 251.2,1164.9 252.7,1059.1 254.1,1149.9 255.6,1056.5 257.0,1167.6 258.5,1041.7 259.9,1169.6 261.4,1042.3 262.8,1187.1 264.3,1058.5 265.7,1163.7 267.2,1067.9 268.6,1175.9 270.1,1044.4 271.5,1167.5 273.0,1073.8 274.4,1167.4 275.9,1051.7 277.3,1163.7 278.8,1025.5 280.2,1177.8 281.7,1035.2 283.1,1191.2 284.6,1037.4 286.0,1157.4 287.5,1050.7 288.9,1173.2 290.4,1039.6 291.8,1166.7 293.3,1043.4 294.7,1189.3 296.2,1054.7 297.6,1165.3 299.1,1061.3 300.5,1163.9 302.0,1072.0 303.4,1172.1 304.9,1068.4 306.3,1186.9 307.8,1039.1 309.2,1166.8 310.7,1058.2 312.1,1163.4 313.6,1040.7 315.0,1170.9 316.5,1069.5 317.9,1176.2 319.4,1043.9 320.8,1196.5 322.3,1031.3 323.7,1184.7 325.2,1051.4 326.6,1184.9 328.1,1039.1 329.5,1171.1 331.0,1057.5 332.4,1172.7 333.9,1031.3 335.3,1161.8 336.8,1043.4 338.2,1167.9 339.7,1058.5 341.1,1176.0 342.6,1020.7 344.0,1196.0 345.5,1058.1 346.9,1178.8 348.4,1047.4 349.8,1160.1 351.3,1035.7 352.7,1177.5 354.2,1063.0 355.6,1174.0 357.1,1051.5 358.5,1164.0 360.0,1065.3 361.4,1191.8 362.9,1072.5 364.3,1179.6 365.8,1075.9 367.2,1178.4 368.7,1062.9 370.1,1169.8 371.6,1048.9 373.0,1158.3 374.5,1045.1 375.9,1175.6 377.4,1018.6 378.8,1175.4 380.3,1059.9 381.7,1197.5 383.2,1061.1 384.6,1196.0 386.1,1048.0 387.5,1165.7 389.0,1037.1 390.4,1192.9 391.9,1050.8 393.3,1188.9 394.8,1064.8 396.2,1166.4 397.7,1057.6 399.1,1164.5 400.6,1055.7 402.0,1179.2 403.5,1064.1 404.9,1164.7 406.4,1041.9 407.8,1167.2 409.3,1033.0 410.7,1164.7 412.2,1031.9 413.6,1160.0 415.1,1043.3 416.5,1178.5 418.0,1039.9 419.4,1168.0 420.9,1090.9 422.3,1142.5 423.8,1049.9 425.2,1159.9 426.7,1049.8 428.1,1209.8 429.6,1027.5 431.0,1182.8 432.5,1033.9 433.9,1155.6 435.4,1037.6 436.8,1156.0 438.3,1050.7 439.7,1163.6 441.2,1033.4 442.6,1201.7 444.1,1054.8 445.5,1188.7 447.0,1065.2 448.4,1181.7 449.9,1072.6 451.3,1174.1 452.8,1047.0 454.2,1157.3 455.7,1031.3 457.1,1170.2 458.6,1050.4 460.0,1154.2 461.5,1007.3 462.9,1162.2 464.4,1046.8 465.8,1181.0 467.3,1006.3 468.7,1169.5 470.2,1044.2 471.6,1160.6 473.1,1023.9 474.5,1165.2 476.0,1038.7 477.4,1164.1 478.9,1038.6 480.3,1160.6 481.8,1054.7 483.2,1164.5 484.7,1054.4 486.1,1155.1 487.6,1074.7 489.0,1169.9 490.5,1060.8 491.9,1180.1 493.4,1019.2 494.8,1171.2 496.3,1033.1 497.7,1194.2 499.2,1039.9 500.6,1166.4 502.1,1028.0 503.5,1161.4 505.0,1033.5 506.4,1164.9 507.9,1042.2 509.3,1142.8 510.8,1014.8 512.2,1160.3 513.7,1034.1 515.1,1159.0 516.6,1031.9 518.0,1153.0 519.5,1036.2 520.9,1137.8 522.4,1031.9 523.8,1137.0 525.3,1037.9 526.7,1189.1 528.2,1039.6 529.6,1143.2 531.1,1036.0 532.5,1128.1 534.0,1015.1 535.4,1127.7 536.9,1007.0 538.3,1156.2 539.8,1023.7 541.2,1115.9 542.7,1011.1 544.1,1131.5 545.6,991.6 547.0,1118.6 548.5,1015.3 549.9,1135.0 551.4,993.2 552.8,1140.9 554.3,997.0 555.7,1110.3 557.2,986.7 558.6,1119.7 560.1,980.9 561.5,1112.7 563.0,989.3 564.4,1096.8 565.9,999.3 567.3,1106.6 568.8,980.6 570.2,1099.8 571.7,980.2 573.1,1086.0 574.6,992.6 576.0,1096.7 577.5,1002.9 578.9,1092.0 580.4,988.2 581.8,1091.0 583.3,987.1 584.7,1075.5 586.2,957.1 587.6,1076.7 589.1,967.8 590.5,1067.3 592.0,988.7 593.4,1057.3 594.9,968.7 596.3,1083.7 597.8,971.5 599.2,1076.7 600.7,991.3 602.1,1081.6 603.6,983.8 605.0,1073.8 606.5,982.1 608.0,1069.2 609.4,986.0 610.9,1084.1 612.3,982.4 613.8,1090.4 615.2,963.2 616.7,1077.9 618.1,966.5 619.6,1076.6 621.0,985.7 622.5,1093.5 623.9,1004.6 625.4,1078.6 626.8,978.5 628.3,1081.6 629.7,952.4 631.2,1097.6 632.6,955.5 634.1,1094.0 635.5,966.1 637.0,1089.0 638.4,974.0 639.9,1110.6 641.3,990.3 642.8,1073.9 644.2,995.3 645.7,1082.9 647.1,955.4 648.6,1088.8 650.0,988.6 651.5,1080.4 652.9,987.0 654.4,1111.9 655.8,1004.5 657.3,1094.0 658.7,999.4 660.2,1086.6 661.6,995.4 663.1,1123.9 664.5,989.3 666.0,1089.6 667.4,979.1 668.9,1114.8 670.3,993.6 671.8,1108.6 673.2,999.5 674.7,1098.3 676.1,1008.3 677.6,1126.9 679.0,1000.3 680.5,1118.1 681.9,1024.6 683.4,1113.9 684.8,980.4 686.3,1129.2 687.7,997.5 689.2,1129.7 690.6,976.2 692.1,1127.7 693.5,1002.0 695.0,1144.8 696.4,1002.7 697.9,1118.9 699.3,1003.6 700.8,1134.7 702.2,993.3 703.7,1109.8 705.1,1001.6 706.6,1103.3 708.0,989.0 709.5,1122.0 710.9,983.3 712.4,1137.4 713.8,973.2 715.3,1134.0 716.7,1004.8 718.2,1123.9 719.6,1007.8 721.1,1128.2 722.5,1014.7 724.0,1122.8 725.4,1001.9 726.9,1125.6 728.3,1002.2 729.8,1129.8 731.2,997.0 732.7,1116.5 734.1,1013.3 735.6,1127.5 737.0,989.3 738.5,1129.9 739.9,999.9 741.4,1129.0 742.8,1006.5 744.3,1168.5 745.7,1002.9 747.2,1130.2 748.6,1002.1 750.1,1124.5 751.5,992.0 753.0,1130.9 754.4,1001.1 755.9,1136.6 757.3,1029.4 758.8,1131.4 760.2,1002.1 761.7,1128.0 763.1,988.6 764.6,1120.2 766.0,997.3 767.5,1114.6 768.9,1002.3 770.4,1135.4 771.8,1020.4 773.3,1121.6 774.7,1002.1 776.2,1133.2 777.6,1018.0 779.1,1127.9 780.5,1007.2 782.0,1130.0 783.4,985.9 784.9,1117.3 786.3,1005.3 787.8,1142.6 789.2,1000.5 790.7,1125.0 792.1,1008.7 793.6,1125.6 795.0,1000.0 796.5,1134.4 797.9,1014.0 799.4,1123.2 800.8,998.4 802.3,1131.0 803.7,985.6 805.2,1131.3 806.6,987.6 808.1,1110.3 809.5,991.2 811.0,1095.9 812.4,996.3 813.9,1117.9 815.3,1003.1 816.8,1122.2 818.2,1028.2 819.7,1133.4 821.1,959.1 822.6,1147.8 824.0,996.8 825.5,1125.3 826.9,981.4 828.4,1137.8 829.8,999.8 831.3,1127.6 832.7,1001.8 834.2,1106.9 835.6,994.7 837.1,1118.2 838.5,1005.6 840.0,1129.0 841.4,1012.3 842.9,1149.0 844.3,989.3 845.8,1141.5 847.2,994.1 848.7,1162.5 850.1,988.5 851.6,1163.5 853.0,1044.7 854.5,1129.5 855.9,988.3 857.4,1118.1 858.8,1002.8 860.3,1133.7 861.7,995.1 863.2,1142.8 864.6,1015.7 866.1,1147.2 867.5,1027.3 869.0,1136.9 870.4,1028.8 871.9,1131.8 873.3,1004.3 874.8,1142.1 876.2,1011.5 877.7,1128.1 879.1,1020.1 880.6,1136.3 882.0,1017.7 883.5,1130.6 884.9,1019.7 886.4,1134.8 887.8,1009.6 889.3,1139.5 890.7,1005.7 892.2,1150.5 893.6,962.8 895.1,1162.6 896.5,1003.3 898.0,1155.8 899.4,995.8 900.9,1126.7 902.3,1025.4 903.8,1127.1 905.2,1017.9 906.7,1148.2 908.1,1021.9 909.6,1157.0 911.0,1039.2 912.5,1128.2 913.9,1020.7 915.4,1130.8 916.8,1030.2 918.3,1143.4 919.7,1029.4 921.2,1138.0 922.6,1021.7 924.1,1125.8 925.5,1036.2 927.0,1122.4 928.4,1041.7 929.9,1128.1 931.3,1045.0 932.8,1151.1 934.2,1057.3 935.7,1148.6 937.1,1046.1 938.6,1152.4 940.0,1022.0 941.5,1151.8 942.9,1023.4 944.4,1139.0 945.8,1037.0 947.3,1152.2 948.7,1024.4 950.2,1145.3 951.6,1040.2 953.1,1145.0 954.5,1039.2 956.0,1155.8 957.4,1052.0 958.9,1169.8 960.3,1047.9 961.8,1170.6 963.2,1047.8 964.7,1153.2 966.1,1051.0 967.6,1169.1 969.0,1037.2 970.5,1153.2 971.9,1038.5 973.4,1153.0 974.8,1049.4 976.3,1149.6 977.7,1027.2 979.2,1138.5 980.6,1049.1 982.1,1145.5 983.5,1048.7 985.0,1151.7 986.4,1009.9 987.9,1158.8 989.3,1042.3 990.8,1144.1 992.2,1044.7 993.7,1164.4 995.1,1051.5 996.6,1158.1 998.0,1037.1 999.5,1147.9 1000.9,1057.4 1002.4,1142.4 1003.8,1051.7 1005.3,1141.4 1006.7,1045.8 1008.2,1150.1 1009.6,1022.5 1011.1,1152.0 1012.5,1055.9 1014.0,1192.2 1015.4,1060.4 1016.9,1161.8 1018.3,1045.4 1019.8,1127.8 1021.2,1032.6 1022.7,1146.3 1024.1,1042.3 1025.6,1128.5 1027.0,1037.7 1026.8,1005.5 1027.0,1155.9" fill="none" stroke="#709fcf" stroke-width="3.1" stroke-linejoin="round" stroke-linecap="round" clip-path="url(#cpd)"/>
<rect x="118.3" y="777" width="909.7" height="640" fill="none" stroke="#000" stroke-width="2.7"/>
<line x1="107.3" y1="776.7" x2="118.3" y2="776.7" stroke="#000" stroke-width="2.7"/>
<text class="sf" x="98.3" y="789.6" font-size="40.5" text-anchor="end">20</text>
<line x1="107.3" y1="936.7" x2="118.3" y2="936.7" stroke="#000" stroke-width="2.7"/>
<text class="sf" x="98.3" y="949.6" font-size="40.5" text-anchor="end">10</text>
<line x1="107.3" y1="1096.7" x2="118.3" y2="1096.7" stroke="#000" stroke-width="2.7"/>
<text class="sf" x="98.3" y="1109.6000000000001" font-size="40.5" text-anchor="end">0</text>
<line x1="107.3" y1="1256.7" x2="118.3" y2="1256.7" stroke="#000" stroke-width="2.7"/>
<text class="sf" x="98.3" y="1269.6000000000001" font-size="40.5" text-anchor="end">-10</text>
<line x1="107.3" y1="1416.7" x2="118.3" y2="1416.7" stroke="#000" stroke-width="2.7"/>
<text class="sf" x="98.3" y="1429.6000000000001" font-size="40.5" text-anchor="end">-20</text>
<line x1="112.8" y1="856.7" x2="118.3" y2="856.7" stroke="#000" stroke-width="2.7"/>
<line x1="112.8" y1="1016.7" x2="118.3" y2="1016.7" stroke="#000" stroke-width="2.7"/>
<line x1="112.8" y1="1176.7" x2="118.3" y2="1176.7" stroke="#000" stroke-width="2.7"/>
<line x1="112.8" y1="1336.7" x2="118.3" y2="1336.7" stroke="#000" stroke-width="2.7"/>
<line x1="118.3" y1="1417" x2="118.3" y2="1427.5" stroke="#000" stroke-width="2.7"/>
<text class="sf" x="118.3" y="1465.5" font-size="40.5" text-anchor="middle">0</text>
<line x1="237.6" y1="1417" x2="237.6" y2="1422" stroke="#000" stroke-width="2.7"/>
<line x1="356.9" y1="1417" x2="356.9" y2="1427.5" stroke="#000" stroke-width="2.7"/>
<text class="sf" x="356.9" y="1465.5" font-size="40.5" text-anchor="middle">5</text>
<line x1="476.2" y1="1417" x2="476.2" y2="1422" stroke="#000" stroke-width="2.7"/>
<line x1="595.5" y1="1417" x2="595.5" y2="1427.5" stroke="#000" stroke-width="2.7"/>
<text class="sf" x="595.5" y="1465.5" font-size="40.5" text-anchor="middle">10</text>
<line x1="714.8" y1="1417" x2="714.8" y2="1422" stroke="#000" stroke-width="2.7"/>
<line x1="834.0999999999999" y1="1417" x2="834.0999999999999" y2="1427.5" stroke="#000" stroke-width="2.7"/>
<text class="sf" x="834.0999999999999" y="1465.5" font-size="40.5" text-anchor="middle">15</text>
<line x1="953.4" y1="1417" x2="953.4" y2="1422" stroke="#000" stroke-width="2.7"/>
<line x1="512.5" y1="833.5" x2="583.5" y2="833.5" stroke="#709fcf" stroke-width="4.8" stroke-linecap="round"/>
<text class="sf" x="593" y="844" font-size="39.5" textLength="374" lengthAdjust="spacingAndGlyphs">Mass 41.00 Propylene</text>
<text class="sf" x="602.5" y="1505" font-size="51.3" text-anchor="middle">Time (h)</text>
<text class="sf" x="44" y="1096.6" font-size="43.4" text-anchor="middle" transform="rotate(-90 44 1096.6)">Gas Flux (×10<tspan font-size="29" dy="-19">-11</tspan><tspan dy="19"> mol/min)</tspan></text>
<text class="ss" font-size="62" transform="translate(2 768.5) scale(1 1.045)">d</text>
<clipPath id="cpe"><rect x="1131" y="778" width="848" height="628"/></clipPath>
<g clip-path="url(#cpe)">
<polyline points="1131.3,883.0 1132.8,883.7 1134.3,883.5 1135.8,884.1 1137.3,884.3 1138.8,883.4 1140.3,883.0 1141.8,883.9 1143.3,882.1 1144.8,881.4 1146.3,882.2 1147.8,880.5 1149.3,881.0 1150.8,880.6 1152.3,881.2 1153.8,880.6 1155.3,881.8 1156.8,882.6 1158.3,881.9 1159.8,882.2 1161.3,881.8 1162.8,880.4 1164.3,881.5 1165.8,881.0 1167.3,880.2 1168.8,879.8 1170.3,881.8 1171.8,881.4 1173.3,882.3 1174.8,883.0 1176.3,883.0 1177.8,883.8 1179.3,883.1 1180.8,884.0 1182.3,883.2 1183.8,884.0 1185.3,883.8 1186.8,882.1 1188.3,881.9 1189.8,881.7 1191.3,882.8 1192.8,881.4 1194.3,881.4 1195.8,880.3 1197.3,880.4 1198.8,880.3 1200.3,880.9 1201.8,882.0 1203.3,882.7 1204.8,884.0 1206.3,884.4 1207.8,885.9 1209.3,886.7 1210.8,888.3 1212.3,889.1 1213.8,889.6 1215.3,892.5 1216.8,891.9 1218.3,888.8 1219.8,885.1 1221.3,883.9 1222.8,881.4 1224.3,882.0 1225.8,881.4 1227.3,880.9 1228.8,880.4 1230.3,882.0 1231.8,882.3 1233.3,884.0 1234.8,888.9 1236.3,891.6 1237.8,888.3 1239.3,885.9 1240.8,885.2 1242.3,884.7 1243.8,882.4 1245.3,882.9 1246.8,881.1 1248.3,882.4 1249.8,882.1 1251.3,883.7 1252.8,884.3 1254.3,883.8 1255.8,885.3 1257.3,884.4 1258.8,884.1 1260.3,884.9 1261.8,883.6 1263.3,883.7 1264.8,884.0 1266.3,884.2 1267.8,883.1 1269.3,882.7 1270.8,884.2 1272.3,882.9 1273.8,884.1 1275.3,883.9 1276.8,882.7 1278.3,882.8 1279.8,882.8 1281.3,882.9 1282.8,882.7 1284.3,882.5 1285.8,882.6 1287.3,883.3 1288.8,882.4 1290.3,882.3 1291.8,883.0 1293.3,882.1 1294.8,882.2 1296.3,883.6 1297.8,882.8 1299.3,882.9 1300.8,881.7 1302.3,882.4 1303.8,882.6 1305.3,881.3 1306.8,882.4 1308.3,882.2 1309.8,880.9 1311.3,881.9 1312.8,881.5 1314.3,881.7 1315.8,881.1 1317.3,881.9 1318.8,882.2 1320.3,880.9 1321.8,881.1 1323.3,882.5 1324.8,883.2 1326.3,881.9 1327.8,882.5 1329.3,882.9 1330.8,882.4 1332.3,882.4 1333.8,882.2 1335.3,882.3 1336.8,882.6 1338.3,882.0 1339.8,882.0 1341.3,882.7 1342.8,881.2 1344.3,882.2 1345.8,882.5 1347.3,881.7 1348.8,881.6 1350.3,882.9 1351.8,881.8 1353.3,881.8 1354.8,882.4 1356.3,883.0 1357.8,881.9 1359.3,882.4 1360.8,882.5 1362.3,883.5 1363.8,882.7 1365.3,883.5 1366.8,882.1 1368.3,882.5 1369.8,883.1 1371.3,883.6 1372.8,882.7 1374.3,880.8 1375.8,877.9 1377.3,876.1 1378.8,869.2 1380.3,867.5 1381.8,867.3 1383.3,865.8 1384.8,874.4 1386.3,891.6 1387.8,877.1 1389.3,863.2 1390.8,867.7 1392.3,879.8 1393.8,881.9 1395.3,884.6 1396.8,885.3 1398.3,883.1 1399.8,880.8 1401.3,879.6 1402.8,879.6 1404.3,880.6 1405.8,879.1 1407.3,879.5 1408.8,882.1 1410.3,882.7 1411.8,883.6 1413.3,883.3 1414.8,884.4 1416.3,884.4 1417.8,882.9 1419.3,884.0 1420.8,884.2 1422.3,883.8 1423.8,883.5 1425.3,883.1 1426.8,883.2 1428.3,883.0 1429.8,882.6 1431.3,883.6 1432.8,882.9 1434.3,883.9 1435.8,882.3 1437.3,884.0 1438.8,883.5 1440.3,883.9 1441.8,883.7 1443.3,883.7 1444.8,883.0 1446.3,881.9 1447.8,883.4 1449.3,882.3 1450.8,882.7 1452.3,883.5 1453.8,883.3 1455.3,883.1 1456.8,884.2 1458.3,883.6 1459.8,883.2 1461.3,882.9 1462.8,883.9 1464.3,883.0 1465.8,883.5 1467.3,882.5 1468.8,882.0 1470.3,882.5 1471.8,883.0 1473.3,881.5 1474.8,882.6 1476.3,882.8 1477.8,882.5 1479.3,882.5 1480.8,880.8 1482.3,882.5 1483.8,884.6 1485.3,885.3 1486.8,889.5 1488.3,892.4 1489.8,894.2 1491.3,895.2 1492.8,893.5 1494.3,891.9 1495.8,888.9 1497.3,887.8 1498.8,886.7 1500.3,886.0 1501.8,885.2 1503.3,886.4 1504.8,885.5 1506.3,883.8 1507.8,884.6 1509.3,884.1 1510.8,884.1 1512.3,884.1 1513.8,884.6 1515.3,884.4 1516.8,883.9 1518.3,883.5 1519.8,883.7 1521.3,883.2 1522.8,884.0 1524.3,884.2 1525.8,883.7 1527.3,883.3 1528.8,883.6 1530.3,884.2 1531.8,884.8 1533.3,885.4 1534.8,884.7 1536.3,885.8 1537.8,885.7 1539.3,885.6 1540.8,885.7 1542.3,886.2 1543.8,886.9 1545.3,886.8 1546.8,887.7 1548.3,886.7 1549.1,889.5 1549.9,886.5 1550.7,891.2 1551.5,887.4 1552.3,891.4 1553.1,887.3 1553.9,892.5 1554.7,886.6 1555.5,891.8 1556.3,886.9 1557.1,892.6 1557.9,888.0 1558.7,892.2 1559.5,888.4 1560.3,893.0 1561.1,887.7 1561.9,893.2 1562.7,887.9 1563.5,893.6 1564.3,888.8 1565.1,894.2 1565.9,890.6 1566.7,895.1 1567.5,891.6 1568.3,895.0 1569.1,890.6 1569.9,895.0 1570.7,891.8 1571.5,895.2 1572.3,890.6 1573.1,895.4 1573.9,892.1 1574.7,896.5 1575.5,892.1 1576.3,896.6 1577.1,891.3 1577.9,896.7 1578.7,890.9 1579.5,896.4 1580.3,891.3 1581.1,895.7 1581.9,891.6 1582.7,896.8 1583.5,891.9 1584.3,896.4 1585.1,892.2 1585.9,898.0 1586.7,893.5 1587.5,897.3 1588.3,893.0 1589.1,898.5 1589.9,894.8 1590.7,899.5 1591.5,896.9 1592.3,902.4 1593.1,898.3 1593.9,904.3 1594.7,901.4 1595.5,907.0 1596.3,904.1 1597.1,909.7 1597.9,907.2 1598.7,912.3 1599.5,908.0 1600.3,914.3 1601.1,911.1 1601.9,915.6 1602.7,913.6 1603.5,916.3 1605.0,917.1 1606.5,915.9 1608.0,913.8 1609.5,911.6 1611.0,906.8 1612.5,900.0 1614.0,893.9 1615.5,889.7 1617.0,887.6 1618.5,884.3 1620.0,884.4 1621.5,886.4 1623.0,891.4 1624.5,899.8 1626.0,909.9 1627.5,921.9 1629.0,931.6 1630.5,941.2 1632.0,949.9 1633.5,957.2 1635.0,959.7 1636.5,962.9 1638.0,964.5 1639.5,966.3 1641.0,966.7 1642.5,967.0 1644.0,967.0 1645.5,966.3 1647.0,966.9 1648.5,966.1 1650.0,964.9 1651.5,964.6 1653.0,964.0 1654.5,965.8 1656.0,965.5 1657.5,968.2 1659.0,967.8 1660.5,968.4 1662.0,968.6 1663.5,969.8 1665.0,969.5 1666.5,968.4 1668.0,967.7 1669.5,965.4 1671.0,962.0 1672.5,954.8 1674.0,948.0 1675.5,939.4 1677.0,928.7 1678.5,918.4 1680.0,909.5 1681.5,906.9 1683.0,905.0 1684.5,904.7 1686.0,903.3 1687.5,899.1 1689.0,895.7 1690.5,891.4 1692.0,887.9 1693.5,888.1 1695.0,888.7 1695.8,884.7 1696.6,887.7 1697.4,884.0 1698.2,887.1 1699.0,884.0 1699.8,887.1 1700.6,883.9 1701.4,885.9 1702.2,882.5 1703.0,885.6 1703.8,882.6 1704.6,885.5 1705.4,881.7 1706.2,884.0 1707.0,881.3 1707.8,883.0 1708.6,881.3 1710.1,880.0 1711.6,879.4 1713.1,879.4 1714.6,880.7 1716.1,883.4 1717.6,885.0 1719.1,887.5 1720.6,886.9 1722.1,884.5 1723.6,884.8 1725.1,883.6 1726.6,882.1 1728.1,883.8 1729.6,882.8 1731.1,883.6 1732.6,883.7 1734.1,882.8 1735.6,883.6 1737.1,883.7 1738.6,884.0 1740.1,883.3 1741.6,883.4 1743.1,883.7 1744.6,883.1 1746.1,881.2 1746.9,883.3 1747.7,880.9 1748.5,883.2 1749.3,880.7 1750.1,884.0 1750.9,881.6 1751.7,884.3 1752.5,882.3 1753.3,885.5 1754.1,883.6 1754.9,886.6 1755.7,883.9 1756.5,886.7 1757.3,884.5 1758.1,887.5 1758.9,885.7 1759.7,888.7 1760.5,886.1 1761.3,889.1 1762.1,886.7 1762.9,889.7 1763.7,887.7 1764.5,890.1 1765.3,888.5 1766.1,891.5 1766.9,889.5 1767.7,891.5 1769.2,893.1 1770.7,894.0 1772.2,893.2 1773.7,890.5 1775.2,889.7 1776.0,885.3 1776.8,889.1 1777.6,885.7 1778.4,891.3 1779.2,886.6 1780.0,891.7 1780.8,887.7 1781.6,893.3 1782.4,888.3 1783.2,894.2 1784.0,889.3 1784.8,895.0 1785.6,891.6 1786.4,896.1 1787.2,893.0 1788.0,898.6 1788.8,892.2 1789.6,896.9 1790.4,892.6 1791.2,896.7 1792.0,891.0 1792.8,896.8 1793.6,890.4 1794.4,895.8 1795.2,890.9 1796.0,894.9 1796.8,890.2 1797.6,894.5 1798.4,888.9 1799.2,893.3 1800.0,888.9 1800.8,893.6 1801.6,888.4 1802.4,892.7 1803.2,885.9 1804.0,892.1 1804.8,885.9 1805.6,890.4 1806.4,884.6 1807.2,889.7 1808.0,883.0 1808.8,888.9 1809.6,883.3 1810.4,888.3 1811.2,882.6 1812.0,888.0 1812.8,882.4 1813.6,887.2 1814.4,882.6 1815.2,888.6 1816.0,883.4 1816.8,888.6 1817.6,883.7 1818.4,888.3 1819.2,883.8 1820.0,888.1 1820.8,883.7 1821.6,888.9 1822.4,883.5 1823.2,888.4 1824.0,882.2 1824.8,888.7 1825.6,883.4 1826.4,888.2 1827.2,882.0 1828.0,884.8 1828.8,880.4 1829.6,881.8 1830.4,878.6 1831.2,878.1 1832.7,887.1 1834.2,897.4 1835.7,920.3 1837.2,944.3 1838.7,959.6 1840.2,951.2 1841.7,926.1 1843.2,917.5 1844.7,911.5 1846.2,906.1 1847.7,903.1 1849.2,902.8 1850.7,901.7 1852.2,900.3 1853.7,899.0 1855.2,899.5 1856.7,898.7 1858.2,897.8 1859.7,895.2 1861.2,892.3 1862.7,889.9 1864.2,887.8 1865.7,886.5 1867.2,885.2 1868.7,884.3 1870.2,883.5 1871.7,884.4 1873.2,884.5 1874.7,885.6 1876.2,886.8 1877.7,887.0 1879.2,888.2 1880.0,884.5 1880.8,889.4 1881.6,884.2 1882.4,889.0 1883.2,883.4 1884.0,889.1 1884.8,883.7 1885.6,887.7 1886.4,883.5 1887.2,888.9 1888.0,883.3 1888.8,888.0 1889.6,882.9 1890.4,887.3 1891.2,883.1 1892.0,888.0 1892.8,883.4 1893.6,887.6 1894.4,883.8 1895.2,888.2 1896.0,883.4 1896.8,888.3 1897.6,884.7 1898.4,889.5 1899.2,884.4 1900.0,890.4 1900.8,885.5 1901.6,890.3 1902.4,885.3 1903.2,890.0 1904.0,884.6 1904.8,890.8 1905.6,886.8 1906.4,891.8 1907.2,887.1 1908.0,892.5 1908.8,887.8 1909.6,893.2 1910.4,890.0 1911.2,896.0 1912.0,891.1 1912.8,897.7 1913.6,892.4 1914.4,899.6 1915.2,894.3 1916.0,900.1 1916.8,896.6 1917.6,903.6 1918.4,898.3 1919.2,905.0 1920.0,901.7 1920.8,908.1 1921.6,902.6 1922.4,911.8 1923.2,910.2 1924.0,915.6 1924.8,915.9 1925.6,920.5 1926.4,921.8 1927.9,927.9 1929.4,934.9 1930.9,940.7 1932.4,942.7 1933.9,947.6 1935.4,950.0 1936.9,953.6 1938.4,955.5 1939.9,957.2 1941.4,957.1 1942.9,959.1 1944.4,960.3 1945.9,961.5 1947.4,959.3 1948.9,958.9 1950.4,959.1 1951.9,956.2 1953.4,953.4 1954.9,950.1 1956.4,946.9 1957.9,942.1 1959.4,935.3 1960.9,931.7 1962.4,927.2 1963.9,925.5 1965.4,924.1 1966.9,924.0 1968.4,922.7 1969.9,924.6 1971.4,926.0 1972.9,928.1 1974.4,928.3 1975.9,921.3 1977.4,911.1" fill="none" stroke="#5bc17b" stroke-width="4.9" stroke-linejoin="round" stroke-linecap="round"/>
<polyline points="1132.0,1006.4 1133.5,1006.8 1135.0,1007.4 1136.5,1007.4 1138.0,1008.0 1139.5,1007.7 1141.0,1008.7 1142.5,1006.9 1144.0,1007.5 1145.5,1007.9 1147.0,1007.4 1148.5,1005.8 1150.0,1005.8 1151.5,1006.9 1153.0,1006.1 1154.5,1006.3 1156.0,1006.8 1157.5,1006.3 1159.0,1007.8 1160.5,1007.9 1162.0,1007.4 1163.5,1005.6 1165.0,1003.0 1166.5,1001.8 1168.0,1002.9 1169.5,1003.1 1171.0,1006.1 1172.5,1005.8 1174.0,1004.9 1175.5,1005.3 1177.0,1003.6 1178.5,1002.3 1180.0,1002.3 1181.5,1003.1 1183.0,1002.7 1184.5,1001.1 1186.0,1001.4 1187.5,1004.2 1189.0,1005.6 1190.5,1008.0 1192.0,1007.7 1193.5,1008.6 1195.0,1008.3 1196.5,1008.8 1198.0,1008.3 1199.5,1007.6 1201.0,1007.7 1202.5,1007.6 1204.0,1009.0 1205.5,1007.1 1207.0,1006.7 1208.5,1008.5 1210.0,1006.6 1211.5,1007.9 1213.0,1004.8 1214.5,1004.3 1216.0,1002.5 1217.5,1002.5 1219.0,1002.7 1220.5,1003.3 1222.0,1004.2 1223.5,1005.0 1225.0,1004.5 1226.5,1004.3 1228.0,1003.1 1229.5,1001.6 1231.0,1004.1 1232.5,1004.5 1234.0,1005.8 1235.5,1005.4 1237.0,1007.0 1238.5,1007.7 1240.0,1008.1 1241.5,1006.5 1243.0,1006.9 1244.5,1007.0 1246.0,1005.1 1247.5,1005.1 1249.0,1004.5 1250.5,1003.7 1252.0,1004.1 1253.5,1003.9 1255.0,1002.9 1256.5,1003.0 1258.0,1004.3 1259.5,1002.8 1261.0,1002.8 1262.5,1002.0 1264.0,1002.1 1265.5,1001.9 1267.0,1003.4 1268.5,1003.5 1270.0,1004.3 1271.5,1005.0 1273.0,1004.6 1274.5,1005.8 1276.0,1005.4 1277.5,1005.6 1279.0,1007.3 1280.5,1006.7 1282.0,1006.3 1283.5,1004.8 1285.0,1004.9 1286.5,1003.6 1288.0,1004.4 1289.5,1004.4 1291.0,1003.2 1292.5,1004.8 1294.0,1003.4 1295.5,1003.3 1297.0,1004.9 1298.5,1004.2 1300.0,1004.8 1301.5,1005.3 1303.0,1004.2 1304.5,1005.9 1306.0,1005.1 1307.5,1005.6 1309.0,1005.6 1310.5,1006.6 1312.0,1006.8 1313.5,1005.3 1315.0,1004.3 1316.5,1004.1 1318.0,1003.8 1319.5,1003.5 1321.0,1004.0 1322.5,1005.7 1324.0,1006.0 1325.5,1007.0 1327.0,1007.4 1328.5,1007.3 1330.0,1006.3 1331.5,1006.0 1333.0,1006.4 1334.5,1006.9 1336.0,1007.2 1337.5,1007.3 1339.0,1007.1 1340.5,1008.3 1342.0,1007.2 1343.5,1007.7 1345.0,1008.2 1346.5,1007.6 1348.0,1006.1 1349.5,1005.5 1351.0,1006.3 1352.5,1004.2 1354.0,1004.0 1355.5,1004.9 1357.0,1005.0 1358.5,1004.3 1360.0,1004.1 1361.5,1004.5 1363.0,1005.8 1364.5,1005.2 1366.0,1006.4 1367.5,1006.1 1369.0,1006.6 1370.5,1003.6 1372.0,1002.9 1373.5,1001.9 1375.0,1001.0 1376.5,997.1 1378.0,993.0 1379.5,989.8 1381.0,983.9 1382.5,981.2 1384.0,984.9 1385.5,992.4 1387.0,1000.8 1388.5,989.8 1390.0,984.6 1391.5,987.5 1393.0,990.1 1394.5,991.3 1396.0,992.9 1397.5,993.8 1399.0,993.8 1400.5,994.5 1402.0,996.7 1403.5,997.7 1405.0,998.0 1406.5,1000.3 1408.0,1001.4 1409.5,1002.5 1411.0,1003.9 1412.5,1003.7 1414.0,1004.4 1415.5,1005.1 1417.0,1005.2 1418.5,1004.5 1420.0,1005.0 1421.5,1005.6 1423.0,1005.6 1424.5,1005.6 1426.0,1005.7 1427.5,1006.3 1429.0,1006.0 1430.5,1006.3 1432.0,1007.0 1433.5,1007.3 1435.0,1006.1 1436.5,1005.5 1438.0,1005.3 1439.5,1005.8 1441.0,1006.8 1442.5,1006.4 1444.0,1007.7 1445.5,1006.3 1447.0,1006.6 1448.5,1007.0 1450.0,1006.8 1451.5,1007.7 1453.0,1007.7 1454.5,1008.1 1456.0,1008.2 1457.5,1007.8 1459.0,1009.7 1460.5,1010.4 1462.0,1011.0 1463.5,1011.1 1465.0,1012.5 1466.5,1013.4 1468.0,1012.4 1469.5,1014.0 1471.0,1012.2 1472.5,1010.7 1474.0,1009.2 1475.5,1008.0 1477.0,1005.1 1478.5,1002.8 1480.0,1004.5 1481.5,1003.3 1483.0,1011.1 1484.5,1021.7 1486.0,1031.5 1487.5,1040.9 1489.0,1049.7 1490.5,1053.6 1492.0,1051.3 1493.5,1049.2 1495.0,1045.6 1496.5,1041.7 1498.0,1038.5 1499.5,1037.0 1501.0,1032.2 1502.5,1029.6 1504.0,1026.9 1505.5,1024.0 1507.0,1022.3 1508.5,1020.4 1510.0,1018.7 1511.5,1016.4 1513.0,1014.9 1514.5,1011.6 1516.0,1010.8 1517.5,1010.9 1519.0,1007.8 1520.5,1007.2 1522.0,1007.2 1523.5,1006.3 1525.0,1006.3 1526.5,1005.5 1528.0,1005.1 1529.5,1006.4 1531.0,1004.3 1531.8,1006.9 1532.6,1004.2 1533.4,1006.8 1534.2,1003.6 1535.0,1006.4 1535.8,1004.0 1536.6,1005.8 1537.4,1003.3 1538.2,1005.7 1539.0,1003.6 1539.8,1006.0 1540.6,1002.7 1541.4,1005.0 1542.2,1002.3 1543.0,1005.1 1543.8,1002.5 1544.6,1004.5 1545.4,1002.2 1546.2,1004.9 1547.0,1002.0 1547.8,1003.9 1548.6,1001.8 1549.4,1003.6 1550.2,1001.4 1551.0,1004.3 1551.8,1001.8 1552.6,1003.8 1553.4,1001.3 1554.2,1004.8 1555.0,1001.5 1555.8,1004.3 1556.6,1002.2 1557.4,1005.2 1558.2,1002.3 1559.0,1005.2 1559.8,1003.0 1560.6,1005.3 1561.4,1003.7 1562.2,1006.7 1563.0,1004.0 1563.8,1007.2 1564.6,1005.0 1565.4,1007.9 1566.2,1005.8 1567.0,1008.7 1567.8,1006.1 1568.6,1008.7 1569.4,1006.2 1570.2,1009.1 1571.0,1005.7 1571.8,1008.2 1572.6,1005.3 1573.4,1008.5 1574.2,1005.8 1575.0,1007.7 1575.8,1005.5 1576.6,1007.2 1577.4,1004.8 1578.2,1008.1 1579.0,1005.7 1579.8,1008.6 1580.6,1007.3 1581.4,1010.1 1582.2,1007.4 1583.0,1011.0 1583.8,1007.7 1584.6,1010.2 1585.4,1007.2 1586.2,1009.4 1587.0,1007.2 1587.8,1008.0 1589.3,1008.2 1590.8,1013.1 1592.3,1018.2 1593.8,1024.6 1595.3,1030.9 1596.8,1039.0 1598.3,1046.9 1599.8,1053.3 1601.3,1060.0 1602.8,1063.5 1604.3,1065.8 1605.8,1067.4 1607.3,1065.2 1608.8,1065.3 1610.3,1060.7 1611.8,1056.0 1613.3,1052.5 1614.8,1048.6 1616.3,1043.3 1617.8,1039.4 1619.3,1034.2 1620.8,1031.0 1622.3,1025.5 1623.8,1021.1 1625.3,1016.7 1626.8,1013.3 1628.3,1009.4 1629.8,1006.2 1631.3,1004.7 1632.8,1005.1 1634.3,1006.0 1635.8,1009.9 1637.3,1018.4 1638.8,1026.0 1640.3,1033.6 1641.8,1044.9 1643.3,1052.8 1644.8,1059.0 1646.3,1062.8 1647.8,1061.6 1649.3,1058.3 1650.8,1054.9 1652.3,1049.6 1653.8,1046.0 1655.3,1049.2 1656.8,1052.1 1658.3,1055.5 1659.8,1059.6 1661.3,1062.7 1662.8,1064.4 1664.3,1066.7 1665.8,1066.1 1667.3,1063.1 1668.8,1059.2 1670.3,1054.0 1671.8,1049.0 1673.3,1044.5 1674.8,1038.7 1676.3,1033.2 1677.8,1026.1 1679.3,1018.2 1680.8,1008.1 1682.3,1012.7 1683.8,1014.5 1685.3,1012.5 1686.8,1011.8 1688.3,1011.0 1689.8,1010.0 1691.3,1009.4 1692.8,1008.8 1694.3,1009.6 1695.8,1009.0 1697.3,1008.7 1698.8,1007.1 1700.3,1006.2 1701.8,1006.8 1702.6,1003.7 1703.4,1005.0 1704.2,1001.9 1705.0,1004.0 1705.8,1001.2 1706.6,1002.1 1707.4,999.6 1708.2,1000.9 1709.0,998.3 1709.8,1000.3 1710.6,998.1 1711.4,999.8 1712.2,997.2 1713.0,999.1 1713.8,997.9 1714.6,1001.7 1715.4,1000.5 1716.2,1003.7 1717.0,1002.5 1717.8,1006.0 1718.6,1003.5 1719.4,1005.2 1720.2,1002.4 1721.0,1005.1 1721.8,1002.3 1722.6,1003.6 1723.4,1001.4 1724.2,1003.3 1725.0,1000.2 1725.8,1002.8 1726.6,999.9 1727.4,1001.7 1728.2,998.9 1729.0,1001.3 1729.8,998.8 1730.6,1001.3 1731.4,999.9 1732.2,1002.5 1733.0,1000.9 1733.8,1003.8 1734.6,1001.5 1735.4,1004.5 1736.2,1002.5 1737.0,1004.3 1737.8,1002.1 1738.6,1004.8 1739.4,1002.1 1740.2,1004.3 1741.0,1001.7 1741.8,1004.9 1742.6,1003.2 1743.4,1006.1 1744.2,1005.0 1745.0,1008.3 1745.8,1006.7 1746.6,1008.8 1747.4,1006.1 1748.2,1008.2 1749.0,1005.5 1749.8,1008.2 1750.6,1004.9 1751.4,1007.5 1752.2,1005.0 1753.0,1006.5 1753.8,1004.5 1754.6,1007.1 1755.4,1005.5 1756.2,1008.4 1757.0,1006.3 1757.8,1009.1 1758.6,1006.5 1759.4,1009.4 1760.2,1007.4 1761.0,1010.4 1761.8,1008.1 1762.6,1009.7 1763.4,1007.7 1764.2,1009.4 1765.0,1006.9 1765.8,1009.2 1766.6,1005.9 1767.4,1008.0 1768.2,1006.7 1769.0,1010.5 1769.8,1010.1 1770.6,1013.7 1771.4,1013.3 1772.2,1015.9 1773.0,1013.4 1773.8,1015.4 1774.6,1013.5 1775.4,1015.6 1776.2,1013.3 1777.0,1015.5 1777.8,1013.1 1778.6,1015.5 1779.4,1012.9 1780.2,1015.0 1781.0,1012.2 1781.8,1014.0 1782.6,1011.0 1783.4,1012.8 1784.2,1010.9 1785.0,1014.3 1785.8,1012.7 1786.6,1015.2 1787.4,1011.7 1788.2,1013.5 1789.0,1009.6 1789.8,1010.8 1790.6,1007.4 1791.4,1009.1 1792.2,1005.7 1793.0,1007.4 1793.8,1004.5 1794.6,1007.0 1795.4,1003.8 1796.2,1007.5 1797.0,1006.0 1797.8,1009.4 1798.6,1008.3 1799.4,1011.8 1800.2,1008.6 1801.0,1010.6 1801.8,1007.8 1802.6,1009.2 1803.4,1005.8 1804.2,1007.7 1805.0,1005.1 1805.8,1007.8 1806.6,1005.2 1807.4,1007.5 1808.2,1005.0 1809.0,1007.8 1809.8,1005.4 1810.6,1007.1 1811.4,1004.9 1812.2,1007.7 1813.0,1006.3 1813.8,1009.6 1814.6,1007.4 1815.4,1010.9 1816.2,1008.9 1817.0,1012.7 1817.8,1010.6 1818.6,1013.7 1819.4,1012.6 1820.2,1015.4 1821.0,1013.4 1821.8,1015.3 1822.6,1012.5 1823.4,1014.3 1824.2,1011.5 1825.0,1012.3 1826.5,1010.9 1828.0,1009.6 1829.5,1007.5 1831.0,1005.5 1832.5,1002.7 1834.0,1004.2 1835.5,1025.7 1837.0,1058.4 1838.5,1081.2 1840.0,1078.5 1841.5,1065.6 1843.0,1056.9 1844.5,1051.8 1846.0,1047.6 1847.5,1042.9 1849.0,1039.8 1850.5,1035.3 1852.0,1031.5 1853.5,1029.2 1855.0,1027.2 1856.5,1024.3 1858.0,1020.8 1859.5,1017.9 1861.0,1015.7 1862.5,1014.7 1864.0,1012.9 1865.5,1010.4 1867.0,1005.5 1868.5,1006.7 1870.0,1005.3 1871.5,1004.8 1873.0,1006.6 1874.5,1011.3 1876.0,1012.3 1877.5,1015.1 1879.0,1017.1 1880.5,1018.6 1882.0,1020.7 1883.5,1024.4 1885.0,1026.1 1886.5,1028.1 1888.0,1030.5 1889.5,1031.0 1891.0,1035.2 1892.5,1038.8 1894.0,1041.3 1895.5,1046.9 1897.0,1053.9 1898.5,1057.7 1900.0,1063.0 1901.5,1066.3 1903.0,1071.2 1904.5,1073.9 1906.0,1077.9 1907.5,1078.7 1909.0,1079.7 1910.5,1080.7 1912.0,1082.0 1913.5,1084.1 1915.0,1084.8 1916.5,1086.5 1918.0,1086.3 1919.5,1087.8 1921.0,1088.4 1922.5,1088.4 1924.0,1088.1 1925.5,1088.7 1927.0,1090.0 1928.5,1089.3 1930.0,1090.6 1931.5,1090.3 1933.0,1091.4 1934.5,1091.3 1936.0,1091.1 1937.5,1090.2 1939.0,1089.4 1940.5,1090.3 1942.0,1090.6 1943.5,1090.8 1945.0,1089.2 1946.5,1088.9 1948.0,1090.3 1949.5,1089.5 1951.0,1088.7 1952.5,1088.9 1954.0,1087.1 1955.5,1087.2 1957.0,1086.8 1958.5,1086.2 1960.0,1085.0 1961.5,1084.6 1963.0,1084.9 1964.5,1083.0 1966.0,1079.1 1967.5,1075.3 1969.0,1071.5 1970.5,1068.9 1972.0,1062.8 1973.5,1056.9 1975.0,1046.0 1976.5,1030.2" fill="none" stroke="#457fee" stroke-width="4.9" stroke-linejoin="round" stroke-linecap="round"/>
<polyline points="1132.0,1119.3 1133.5,1119.9 1135.0,1119.1 1136.5,1119.6 1138.0,1118.8 1138.8,1121.5 1139.6,1119.7 1140.4,1122.1 1141.2,1119.6 1142.0,1122.7 1142.8,1120.1 1143.6,1123.0 1144.4,1120.3 1145.2,1123.4 1146.0,1120.7 1146.8,1123.7 1147.6,1121.3 1148.4,1123.8 1149.2,1121.6 1150.0,1124.8 1150.8,1122.2 1151.6,1124.7 1152.4,1122.5 1153.2,1125.0 1154.0,1122.9 1154.8,1125.6 1155.6,1122.8 1156.4,1125.8 1157.2,1123.2 1158.0,1125.3 1158.8,1123.6 1159.6,1125.8 1160.4,1123.6 1161.2,1126.2 1162.0,1123.7 1162.8,1125.6 1163.6,1121.7 1164.4,1123.9 1165.2,1120.0 1166.0,1122.2 1166.8,1119.3 1167.6,1122.6 1168.4,1121.3 1169.2,1124.6 1170.0,1122.4 1170.8,1125.6 1171.6,1122.7 1172.4,1125.5 1173.2,1122.2 1174.0,1124.6 1174.8,1121.9 1175.6,1124.3 1176.4,1121.1 1177.2,1122.9 1178.0,1119.5 1178.8,1121.9 1179.6,1119.1 1180.4,1121.6 1181.2,1118.9 1182.0,1121.6 1182.8,1118.4 1183.6,1120.4 1184.4,1118.0 1185.2,1120.0 1186.0,1117.4 1186.8,1120.5 1187.6,1118.4 1188.4,1122.5 1189.2,1121.4 1190.0,1125.1 1190.8,1122.5 1191.6,1124.9 1192.4,1122.5 1193.2,1124.6 1194.0,1122.0 1194.8,1124.3 1195.6,1121.4 1196.4,1124.0 1197.2,1121.2 1198.0,1124.0 1198.8,1121.8 1199.6,1124.3 1200.4,1121.2 1201.2,1124.1 1202.0,1120.8 1202.8,1123.4 1203.6,1120.7 1204.4,1122.8 1205.2,1120.0 1206.0,1121.9 1207.5,1119.7 1209.0,1122.6 1210.5,1126.7 1212.0,1132.1 1213.5,1136.3 1215.0,1139.6 1216.5,1139.4 1218.0,1135.3 1219.5,1131.7 1221.0,1128.5 1222.5,1123.8 1224.0,1122.9 1225.5,1122.9 1227.0,1120.6 1228.5,1119.0 1230.0,1118.0 1231.5,1120.6 1233.0,1124.6 1234.5,1130.0 1236.0,1133.9 1237.5,1133.0 1239.0,1125.9 1240.5,1120.6 1242.0,1119.9 1243.5,1120.2 1245.0,1120.7 1246.5,1120.6 1248.0,1119.8 1249.5,1119.7 1251.0,1119.5 1252.5,1119.7 1254.0,1120.3 1255.5,1119.8 1257.0,1121.1 1258.5,1120.4 1260.0,1120.0 1261.5,1120.2 1263.0,1119.4 1264.5,1121.0 1266.0,1121.2 1267.5,1120.5 1269.0,1121.4 1270.5,1120.6 1272.0,1120.7 1273.5,1120.9 1275.0,1120.9 1276.5,1121.9 1278.0,1122.1 1279.5,1122.3 1281.0,1121.0 1282.5,1122.3 1284.0,1121.8 1285.5,1121.5 1287.0,1121.5 1288.5,1121.1 1290.0,1120.4 1291.5,1120.6 1293.0,1120.9 1294.5,1120.8 1296.0,1120.9 1297.5,1119.3 1299.0,1120.4 1300.5,1120.1 1302.0,1120.0 1303.5,1120.6 1305.0,1119.0 1306.5,1120.4 1308.0,1120.7 1309.5,1119.3 1311.0,1120.3 1312.5,1121.1 1314.0,1119.8 1315.5,1121.0 1317.0,1121.1 1318.5,1120.2 1320.0,1119.6 1321.5,1119.7 1323.0,1121.0 1324.5,1120.1 1326.0,1119.9 1327.5,1120.2 1329.0,1121.2 1330.5,1119.8 1332.0,1119.2 1333.5,1121.0 1335.0,1119.7 1336.5,1119.7 1338.0,1120.8 1339.5,1119.4 1341.0,1118.9 1342.5,1120.4 1344.0,1119.0 1345.5,1119.0 1347.0,1120.5 1348.5,1119.2 1350.0,1120.7 1351.5,1119.7 1353.0,1119.7 1354.5,1119.7 1356.0,1120.4 1357.5,1120.3 1359.0,1119.9 1360.5,1120.0 1362.0,1119.5 1363.5,1120.5 1365.0,1120.6 1366.5,1120.2 1368.0,1120.2 1369.5,1118.6 1371.0,1118.8 1372.5,1118.6 1374.0,1118.3 1375.5,1119.8 1377.0,1120.1 1378.5,1121.6 1380.0,1122.0 1381.5,1121.5 1383.0,1120.1 1384.5,1112.5 1386.0,1108.2 1387.5,1103.3 1389.0,1113.9 1390.5,1112.5 1392.0,1106.8 1393.5,1107.9 1395.0,1106.9 1396.5,1109.1 1398.0,1108.8 1399.5,1109.9 1401.0,1109.1 1402.5,1110.8 1404.0,1113.2 1405.5,1114.7 1407.0,1115.5 1408.5,1116.7 1410.0,1118.5 1411.5,1118.0 1413.0,1120.3 1414.5,1119.8 1416.0,1119.6 1417.5,1120.0 1419.0,1119.5 1420.5,1119.9 1422.0,1120.4 1423.5,1120.1 1425.0,1120.0 1426.5,1119.9 1428.0,1120.3 1429.5,1120.9 1431.0,1120.1 1432.5,1120.7 1434.0,1120.0 1435.5,1119.2 1437.0,1119.2 1438.5,1120.4 1440.0,1119.6 1441.5,1119.3 1443.0,1119.8 1444.5,1121.0 1446.0,1120.5 1447.5,1120.9 1449.0,1121.4 1450.5,1121.0 1452.0,1122.2 1453.5,1122.3 1455.0,1122.6 1456.5,1122.7 1458.0,1123.0 1459.5,1123.7 1461.0,1122.8 1462.5,1124.6 1464.0,1123.1 1465.5,1124.9 1467.0,1123.7 1468.5,1125.2 1470.0,1124.1 1471.5,1121.9 1473.0,1121.0 1474.5,1120.6 1476.0,1120.0 1477.5,1119.5 1479.0,1119.2 1480.5,1119.3 1482.0,1123.3 1483.5,1135.1 1485.0,1148.2 1486.5,1157.4 1488.0,1162.1 1489.5,1163.4 1491.0,1161.7 1492.5,1157.6 1494.0,1153.8 1495.5,1149.2 1497.0,1145.0 1498.5,1143.4 1500.0,1138.6 1501.5,1136.4 1503.0,1136.2 1504.5,1133.4 1506.0,1132.5 1507.5,1129.6 1509.0,1128.8 1510.5,1128.8 1512.0,1126.4 1513.5,1126.4 1515.0,1126.2 1516.5,1123.8 1518.0,1124.0 1519.5,1123.5 1521.0,1122.6 1522.5,1122.3 1524.0,1121.5 1525.5,1119.5 1527.0,1119.6 1528.5,1120.2 1530.0,1120.9 1531.5,1119.2 1533.0,1119.9 1534.5,1118.8 1536.0,1120.3 1537.5,1119.7 1539.0,1120.0 1540.5,1120.5 1542.0,1119.6 1543.5,1121.0 1545.0,1121.3 1546.5,1121.7 1548.0,1120.7 1549.5,1120.8 1551.0,1120.9 1552.5,1122.6 1554.0,1121.9 1555.5,1122.0 1557.0,1122.5 1558.5,1122.9 1560.0,1122.1 1561.5,1122.2 1563.0,1122.8 1564.5,1123.0 1566.0,1124.2 1566.8,1122.5 1567.6,1126.4 1568.4,1122.3 1569.2,1127.1 1570.0,1123.7 1570.8,1128.6 1571.6,1124.6 1572.4,1128.5 1573.2,1125.7 1574.0,1128.9 1574.8,1125.2 1575.6,1129.1 1576.4,1124.8 1577.2,1129.7 1578.0,1125.7 1578.8,1129.8 1579.6,1125.7 1580.4,1129.9 1581.2,1125.9 1582.0,1129.9 1582.8,1126.1 1583.6,1130.5 1584.4,1126.6 1585.2,1130.6 1586.0,1126.6 1586.8,1130.8 1587.6,1127.0 1588.4,1130.4 1589.2,1126.9 1590.0,1131.9 1590.8,1129.1 1591.6,1133.2 1592.4,1131.2 1593.2,1135.6 1594.0,1134.5 1594.8,1136.6 1596.3,1141.1 1597.8,1144.7 1599.3,1149.5 1600.8,1151.7 1602.3,1154.4 1603.8,1156.3 1605.3,1157.7 1606.8,1158.4 1608.3,1156.6 1609.8,1153.5 1611.3,1152.6 1612.8,1149.9 1614.3,1146.0 1615.8,1144.5 1617.3,1141.8 1618.8,1140.3 1620.3,1139.5 1621.8,1138.5 1623.3,1137.6 1624.8,1137.6 1626.3,1134.9 1627.8,1132.3 1629.3,1131.1 1630.1,1128.5 1630.9,1131.0 1631.7,1127.9 1632.5,1130.6 1633.3,1128.1 1634.1,1129.9 1634.9,1127.5 1635.7,1129.4 1636.5,1125.8 1637.3,1128.6 1638.1,1125.1 1638.9,1127.5 1639.7,1123.4 1640.5,1126.3 1641.3,1124.1 1642.1,1127.8 1642.9,1125.1 1643.7,1129.0 1644.5,1127.2 1645.3,1128.8 1646.1,1124.7 1646.9,1127.6 1647.7,1123.2 1648.5,1125.0 1649.3,1122.1 1650.1,1126.0 1650.9,1123.9 1651.7,1127.6 1652.5,1124.4 1653.3,1129.0 1654.1,1126.0 1654.9,1130.1 1655.7,1126.7 1656.5,1130.3 1657.3,1127.9 1658.1,1130.7 1658.9,1128.6 1659.7,1132.1 1660.5,1130.1 1661.3,1133.9 1662.1,1131.6 1662.9,1135.9 1663.7,1133.1 1664.5,1137.1 1665.3,1133.5 1666.1,1136.6 1666.9,1134.4 1667.7,1137.1 1668.5,1134.4 1669.3,1137.6 1670.1,1134.1 1670.9,1138.4 1671.7,1135.1 1672.5,1139.3 1673.3,1136.7 1674.1,1140.1 1674.9,1137.6 1675.7,1141.0 1676.5,1139.1 1678.0,1138.1 1679.5,1133.1 1681.0,1128.0 1682.5,1138.9 1684.0,1139.1 1685.5,1139.3 1687.0,1137.2 1688.5,1135.0 1690.0,1134.5 1691.5,1133.1 1693.0,1132.6 1694.5,1130.4 1696.0,1127.8 1697.5,1127.2 1699.0,1127.6 1700.5,1127.1 1702.0,1127.9 1703.5,1127.9 1705.0,1127.9 1706.5,1127.1 1708.0,1125.0 1709.5,1123.1 1711.0,1122.7 1712.5,1120.9 1714.0,1121.8 1715.5,1121.0 1717.0,1121.2 1718.5,1120.7 1720.0,1121.8 1721.5,1123.9 1723.0,1120.9 1724.5,1117.8 1726.0,1118.1 1727.5,1118.8 1729.0,1120.3 1730.5,1120.3 1732.0,1119.8 1733.5,1121.5 1735.0,1121.2 1736.5,1120.9 1738.0,1119.8 1739.5,1119.6 1741.0,1121.4 1742.5,1122.5 1744.0,1122.9 1745.5,1122.5 1747.0,1123.0 1748.5,1121.9 1750.0,1120.8 1751.5,1120.6 1753.0,1119.6 1754.5,1120.3 1756.0,1121.1 1757.5,1122.3 1759.0,1120.8 1760.5,1122.5 1762.0,1123.0 1763.5,1121.5 1765.0,1120.5 1766.5,1120.4 1768.0,1117.9 1769.5,1121.2 1771.0,1122.3 1772.5,1123.7 1774.0,1123.2 1775.5,1123.5 1777.0,1121.8 1778.5,1122.2 1780.0,1121.1 1781.5,1122.2 1783.0,1122.2 1784.5,1122.2 1786.0,1123.7 1787.5,1122.0 1789.0,1120.9 1790.5,1118.9 1792.0,1122.1 1793.5,1123.4 1795.0,1123.9 1796.5,1122.3 1798.0,1124.1 1799.5,1122.1 1801.0,1122.8 1802.5,1121.6 1804.0,1119.6 1805.5,1120.4 1807.0,1122.0 1808.5,1121.8 1810.0,1121.5 1811.5,1122.8 1813.0,1123.5 1814.5,1125.6 1816.0,1126.8 1817.5,1127.9 1819.0,1131.9 1820.5,1132.5 1822.0,1135.3 1823.5,1138.7 1825.0,1140.0 1826.5,1143.5 1828.0,1146.7 1829.5,1148.8 1831.0,1150.7 1832.5,1153.8 1834.0,1156.2 1835.5,1157.9 1837.0,1160.3 1838.5,1161.9 1840.0,1164.3 1841.5,1167.7 1843.0,1169.6 1844.5,1169.3 1846.0,1171.4 1847.5,1173.2 1849.0,1175.6 1850.5,1175.6 1852.0,1176.6 1853.5,1179.0 1855.0,1178.6 1856.5,1181.0 1858.0,1180.7 1859.5,1182.3 1861.0,1182.8 1862.5,1182.1 1864.0,1183.8 1865.5,1183.6 1867.0,1183.9 1868.5,1184.3 1870.0,1186.4 1871.5,1186.9 1873.0,1187.5 1874.5,1189.9 1876.0,1189.9 1877.5,1191.7 1879.0,1192.3 1880.5,1194.2 1882.0,1196.5 1883.5,1197.1 1885.0,1197.4 1886.5,1198.6 1888.0,1200.3 1889.5,1200.5 1891.0,1202.6 1892.5,1201.7 1894.0,1204.0 1895.5,1204.3 1897.0,1205.4 1898.5,1205.3 1900.0,1205.7 1901.5,1206.9 1903.0,1208.8 1904.5,1208.5 1906.0,1208.8 1907.5,1209.7 1909.0,1209.6 1910.5,1210.2 1912.0,1210.8 1913.5,1210.9 1915.0,1212.0 1916.5,1211.9 1918.0,1211.9 1919.5,1212.0 1921.0,1211.2 1922.5,1211.3 1924.0,1211.6 1925.5,1212.0 1927.0,1211.3 1928.5,1213.0 1930.0,1212.2 1931.5,1212.5 1933.0,1212.6 1934.5,1211.1 1936.0,1212.2 1937.5,1212.1 1939.0,1210.5 1940.5,1210.0 1942.0,1211.1 1943.5,1210.9 1945.0,1210.3 1946.5,1209.1 1948.0,1209.0 1949.5,1207.3 1951.0,1206.9 1952.5,1206.6 1954.0,1206.7 1955.5,1205.0 1957.0,1206.3 1958.5,1204.8 1960.0,1207.4 1961.5,1206.6 1963.0,1205.8 1964.5,1202.5 1966.0,1199.5 1967.5,1193.9 1969.0,1189.0 1970.5,1182.8 1972.0,1177.7 1973.5,1166.2 1975.0,1155.4 1976.5,1151.7" fill="none" stroke="#f03e46" stroke-width="4.9" stroke-linejoin="round" stroke-linecap="round"/>
<polyline points="1132.0,1296.5 1133.5,1297.3 1135.0,1296.9 1136.5,1296.5 1138.0,1296.6 1138.8,1297.4 1139.6,1295.0 1140.4,1296.4 1141.2,1292.8 1142.0,1294.7 1142.8,1291.8 1143.6,1294.9 1144.4,1292.7 1145.2,1295.4 1146.0,1293.8 1146.8,1296.0 1147.6,1294.4 1148.4,1296.8 1149.2,1296.6 1150.0,1301.1 1150.8,1301.2 1151.6,1305.7 1152.4,1305.1 1153.2,1305.9 1154.0,1302.8 1154.8,1303.7 1155.6,1300.3 1156.4,1301.5 1157.2,1298.4 1158.0,1300.5 1158.8,1297.6 1159.6,1299.9 1160.4,1296.8 1161.2,1299.0 1162.0,1296.2 1162.8,1297.5 1163.6,1294.2 1164.4,1295.0 1165.2,1291.5 1166.0,1292.6 1166.8,1289.1 1167.6,1290.5 1168.4,1288.0 1169.2,1292.2 1170.0,1291.7 1170.8,1295.4 1171.6,1294.5 1172.4,1298.7 1173.2,1296.2 1174.0,1297.2 1174.8,1294.2 1175.6,1296.1 1176.4,1293.3 1177.2,1296.7 1178.0,1295.4 1178.8,1298.4 1179.6,1297.0 1180.4,1300.6 1181.2,1298.9 1182.0,1302.2 1182.8,1300.8 1183.6,1301.5 1184.4,1296.7 1185.2,1296.8 1186.0,1291.8 1186.8,1291.6 1187.6,1292.7 1188.4,1298.8 1189.2,1300.0 1190.0,1304.4 1190.8,1301.9 1191.6,1302.9 1192.4,1300.0 1193.2,1302.0 1194.0,1299.7 1194.8,1301.3 1196.3,1303.2 1197.8,1305.4 1199.3,1306.2 1200.8,1307.0 1202.3,1306.7 1203.8,1308.0 1205.3,1308.1 1206.8,1309.1 1208.3,1311.9 1209.8,1313.1 1211.3,1318.7 1212.8,1321.5 1214.3,1323.2 1215.8,1325.6 1217.3,1320.9 1218.8,1316.4 1220.3,1311.1 1221.8,1307.5 1223.3,1303.7 1224.8,1301.2 1226.3,1299.7 1227.8,1298.6 1229.3,1294.3 1230.8,1295.1 1232.3,1300.7 1233.8,1307.5 1235.3,1312.8 1236.8,1318.7 1238.3,1314.9 1239.8,1309.8 1241.3,1305.9 1242.8,1302.0 1244.3,1301.5 1245.8,1301.7 1247.3,1302.2 1248.8,1300.9 1250.3,1300.7 1251.8,1301.0 1253.3,1303.4 1254.8,1304.8 1256.3,1304.8 1257.8,1303.3 1259.3,1303.8 1260.8,1303.8 1262.3,1300.9 1263.8,1300.2 1265.3,1300.5 1266.8,1297.6 1268.3,1298.7 1269.8,1298.0 1271.3,1296.7 1272.8,1298.6 1274.3,1298.3 1275.8,1300.9 1277.3,1300.8 1278.8,1301.3 1280.3,1300.2 1281.8,1297.7 1283.3,1297.2 1284.8,1295.7 1286.3,1295.9 1287.8,1296.7 1289.3,1299.1 1290.8,1301.7 1292.3,1301.4 1293.8,1297.6 1295.3,1295.3 1296.8,1293.1 1298.3,1293.0 1299.8,1297.0 1301.3,1302.3 1302.8,1300.4 1304.3,1299.2 1305.8,1299.4 1307.3,1299.4 1308.8,1300.5 1310.3,1300.5 1311.8,1297.8 1313.3,1297.3 1314.8,1295.5 1316.3,1293.0 1317.8,1293.3 1319.3,1293.6 1320.8,1295.9 1322.3,1295.8 1323.8,1297.0 1325.3,1298.2 1326.8,1299.8 1328.3,1299.3 1329.8,1295.6 1331.3,1298.4 1332.8,1301.3 1334.3,1301.8 1335.8,1298.8 1337.3,1297.1 1338.8,1298.2 1340.3,1300.9 1341.8,1301.5 1343.3,1299.0 1344.8,1296.5 1346.3,1298.0 1347.8,1297.0 1349.3,1297.4 1350.8,1298.8 1352.3,1299.6 1353.8,1299.8 1355.3,1299.6 1356.8,1302.1 1358.3,1301.2 1359.8,1302.3 1361.3,1304.4 1362.8,1303.1 1364.3,1301.9 1365.8,1299.4 1367.3,1299.9 1368.8,1297.9 1370.3,1296.2 1371.8,1296.7 1373.3,1293.0 1374.8,1286.8 1376.3,1287.5 1377.8,1297.0 1379.3,1304.3 1380.8,1300.0 1382.3,1294.7 1383.8,1277.4 1385.3,1246.9 1386.8,1226.7 1388.3,1236.3 1389.8,1286.7 1391.3,1251.9 1392.8,1245.8 1394.3,1255.2 1395.8,1270.0 1397.3,1262.8 1398.8,1259.0 1400.3,1263.7 1401.8,1270.3 1403.3,1275.2 1404.8,1280.1 1406.3,1286.1 1407.8,1289.3 1409.3,1293.4 1410.8,1295.9 1412.3,1296.8 1413.8,1298.5 1415.3,1300.7 1416.8,1300.8 1418.3,1303.3 1419.8,1303.0 1421.3,1303.4 1422.8,1301.2 1424.3,1301.3 1425.8,1301.0 1427.3,1301.4 1428.8,1302.5 1430.3,1302.3 1431.8,1301.2 1433.3,1299.2 1434.8,1298.1 1436.3,1296.7 1437.8,1297.0 1439.3,1296.3 1440.8,1297.9 1442.3,1299.7 1443.8,1299.6 1445.3,1297.5 1446.8,1297.5 1448.3,1295.0 1449.8,1297.3 1451.3,1298.6 1452.8,1298.3 1454.3,1298.0 1455.8,1295.8 1457.3,1295.0 1458.8,1296.5 1460.3,1295.6 1461.8,1295.6 1463.3,1296.0 1464.8,1293.9 1466.3,1293.8 1467.8,1292.5 1469.3,1294.3 1470.8,1295.8 1472.3,1295.9 1473.8,1296.0 1475.3,1294.9 1476.8,1293.3 1478.3,1293.6 1479.8,1297.3 1481.3,1300.0 1482.8,1298.7 1484.3,1296.7 1485.8,1296.2 1487.3,1294.6 1488.8,1295.2 1490.3,1293.3 1491.8,1292.8 1493.3,1294.2 1494.8,1296.0 1496.3,1297.9 1497.8,1299.2 1499.3,1297.4 1500.8,1296.6 1502.3,1297.0 1503.8,1297.5 1505.3,1297.6 1506.8,1296.7 1508.3,1295.7 1509.8,1294.9 1511.3,1294.7 1512.8,1295.9 1514.3,1296.6 1515.8,1297.7 1517.3,1299.2 1518.8,1297.5 1520.3,1295.7 1521.8,1296.0 1523.3,1297.3 1524.8,1298.5 1526.3,1298.1 1527.8,1300.3 1529.3,1300.0 1530.8,1300.8 1532.3,1305.0 1533.8,1307.0 1535.3,1305.9 1536.8,1305.0 1538.3,1306.0 1539.8,1307.5 1541.3,1308.8 1542.8,1309.8 1544.3,1311.7 1545.8,1309.5 1547.3,1309.0 1548.8,1308.5 1550.3,1308.7 1551.8,1310.4 1553.3,1310.4 1554.8,1309.8 1556.3,1308.3 1557.8,1306.9 1559.3,1310.0 1560.8,1313.3 1562.3,1313.2 1563.8,1311.0 1565.3,1309.0 1566.8,1310.1 1568.3,1310.9 1569.8,1312.1 1571.3,1313.6 1572.8,1313.7 1574.3,1315.1 1575.8,1317.0 1576.6,1315.0 1577.4,1318.8 1578.2,1315.8 1579.0,1319.7 1579.8,1317.0 1580.6,1320.5 1581.4,1317.6 1582.2,1321.1 1583.0,1318.8 1583.8,1322.7 1584.6,1320.1 1585.4,1322.3 1586.2,1318.4 1587.0,1321.5 1587.8,1318.1 1588.6,1320.4 1589.4,1316.8 1590.2,1319.6 1591.0,1316.5 1591.8,1319.9 1592.6,1317.5 1593.4,1320.9 1594.2,1317.8 1595.0,1321.2 1595.8,1319.0 1596.6,1323.1 1597.4,1320.1 1598.2,1325.4 1599.0,1322.7 1599.8,1326.7 1600.6,1323.9 1601.4,1327.3 1602.2,1324.6 1603.0,1329.6 1603.8,1326.1 1604.6,1330.2 1605.4,1326.0 1606.2,1330.1 1607.0,1326.4 1607.8,1330.2 1608.6,1326.1 1609.4,1329.7 1610.2,1325.4 1611.0,1327.5 1611.8,1323.8 1612.6,1326.6 1613.4,1322.6 1614.2,1325.6 1615.0,1320.7 1615.8,1324.0 1616.6,1319.7 1617.4,1322.7 1618.2,1318.8 1619.0,1322.6 1619.8,1320.0 1620.6,1324.0 1621.4,1320.7 1622.2,1324.5 1623.0,1322.0 1623.8,1325.4 1624.6,1322.2 1625.4,1326.1 1626.2,1323.2 1627.0,1325.7 1627.8,1320.3 1628.6,1321.9 1629.4,1316.7 1630.2,1321.4 1631.0,1319.1 1631.8,1323.4 1632.6,1321.1 1633.4,1322.3 1634.2,1318.2 1635.0,1319.7 1635.8,1316.2 1636.6,1316.4 1638.1,1318.3 1639.6,1318.2 1641.1,1317.3 1642.6,1315.7 1644.1,1314.2 1645.6,1313.7 1647.1,1315.7 1648.6,1313.1 1650.1,1313.0 1651.6,1313.9 1653.1,1317.9 1654.6,1318.5 1656.1,1320.0 1657.6,1318.6 1659.1,1313.5 1660.6,1311.4 1662.1,1312.5 1663.6,1312.0 1665.1,1309.0 1666.6,1308.3 1668.1,1307.6 1669.6,1305.5 1671.1,1304.6 1672.6,1305.4 1674.1,1303.9 1675.6,1300.5 1677.1,1300.0 1678.6,1296.0 1680.1,1289.4 1681.6,1291.8 1683.1,1294.6 1684.6,1295.8 1686.1,1294.2 1687.6,1293.1 1689.1,1291.7 1690.6,1293.3 1692.1,1294.0 1693.6,1292.1 1695.1,1290.0 1696.6,1288.6 1698.1,1290.8 1699.6,1294.0 1701.1,1293.8 1702.6,1294.3 1704.1,1294.2 1705.6,1291.0 1707.1,1291.0 1708.6,1293.1 1710.1,1293.6 1711.6,1291.6 1713.1,1289.3 1714.6,1291.6 1716.1,1294.2 1717.6,1296.7 1719.1,1294.3 1720.6,1292.0 1722.1,1291.0 1723.6,1288.9 1725.1,1288.0 1726.6,1288.7 1728.1,1288.1 1729.6,1288.0 1731.1,1289.3 1732.6,1292.8 1734.1,1294.4 1735.6,1294.2 1737.1,1294.6 1738.6,1291.0 1740.1,1289.6 1741.6,1289.7 1743.1,1293.8 1744.6,1295.6 1746.1,1297.7 1747.6,1296.5 1749.1,1293.4 1750.6,1293.8 1752.1,1292.4 1753.6,1292.8 1755.1,1292.3 1756.6,1296.2 1758.1,1298.6 1759.6,1299.6 1761.1,1298.7 1762.6,1298.8 1764.1,1297.3 1765.6,1295.6 1767.1,1294.9 1768.6,1294.2 1770.1,1292.9 1771.6,1295.0 1773.1,1297.2 1774.6,1298.5 1776.1,1299.2 1777.6,1297.6 1779.1,1298.0 1780.6,1297.5 1782.1,1296.1 1783.6,1296.3 1785.1,1297.4 1786.6,1298.0 1788.1,1297.5 1789.6,1296.4 1791.1,1295.3 1792.6,1295.0 1794.1,1293.8 1795.6,1294.3 1797.1,1294.8 1798.6,1293.4 1800.1,1294.4 1801.6,1295.0 1803.1,1294.9 1804.6,1295.5 1806.1,1296.4 1807.6,1296.8 1809.1,1295.0 1810.6,1292.8 1812.1,1289.9 1813.6,1291.6 1815.1,1292.7 1816.6,1292.8 1818.1,1294.6 1819.6,1294.8 1821.1,1295.5 1822.6,1296.4 1824.1,1299.1 1825.6,1300.4 1827.1,1300.5 1828.6,1302.0 1830.1,1304.0 1831.6,1304.6 1833.1,1306.5 1834.6,1306.3 1836.1,1306.9 1837.6,1305.7 1839.1,1304.2 1840.6,1304.3 1842.1,1304.4 1843.6,1305.6 1845.1,1306.8 1846.6,1305.5 1848.1,1304.4 1849.6,1305.1 1851.1,1302.6 1852.6,1300.1 1854.1,1299.1 1855.6,1299.6 1857.1,1299.3 1858.6,1297.6 1860.1,1296.2 1861.6,1294.6 1863.1,1292.5 1864.6,1293.7 1866.1,1292.2 1867.6,1295.3 1869.1,1296.4 1870.6,1293.1 1872.1,1290.9 1873.6,1292.3 1875.1,1292.5 1876.6,1292.3 1878.1,1294.9 1879.6,1297.8 1881.1,1301.0 1882.6,1300.0 1884.1,1299.1 1885.6,1300.1 1887.1,1303.2 1888.6,1304.4 1890.1,1303.6 1891.6,1302.7 1893.1,1306.0 1894.6,1309.9 1896.1,1311.5 1897.6,1313.7 1899.1,1314.5 1900.6,1318.1 1902.1,1320.5 1903.6,1324.8 1905.1,1328.2 1906.6,1331.7 1908.1,1328.5 1909.6,1323.1 1911.1,1325.5 1912.6,1329.4 1914.1,1329.4 1915.6,1330.2 1917.1,1331.3 1918.6,1333.2 1920.1,1333.1 1921.6,1332.7 1923.1,1331.8 1924.6,1330.7 1926.1,1328.0 1927.6,1327.4 1929.1,1325.7 1930.6,1323.7 1932.1,1322.1 1933.6,1319.9 1935.1,1317.3 1936.6,1315.7 1938.1,1314.1 1939.6,1313.2 1941.1,1313.5 1942.6,1313.7 1944.1,1311.7 1945.6,1314.9 1947.1,1318.7 1948.6,1318.3 1950.1,1315.8 1951.6,1313.5 1953.1,1312.6 1954.6,1311.2 1956.1,1315.9 1957.6,1320.3 1959.1,1325.7 1960.6,1330.6 1962.1,1331.3 1963.6,1331.3 1965.1,1326.7 1966.6,1321.9 1968.1,1318.9 1969.6,1317.6 1971.1,1314.6 1972.6,1312.6 1974.1,1307.9 1975.6,1308.8 1977.1,1311.0" fill="none" stroke="#555555" stroke-width="4.9" stroke-linejoin="round" stroke-linecap="round"/>
</g>
<text class="sf" x="1147" y="864" font-size="33" fill="#5bc17b">0.01 V-Ti<tspan font-size="22.4" dy="9.2">3</tspan><tspan dy="-9.2">C</tspan><tspan font-size="22.4" dy="9.2">2</tspan><tspan dy="-9.2">Cl</tspan><tspan font-size="22.4" dy="9.2">2</tspan></text>
<text class="sf" x="1146" y="985.5" font-size="33" fill="#457fee">0.50 V-Ti<tspan font-size="22.4" dy="9.2">3</tspan><tspan dy="-9.2">C</tspan><tspan font-size="22.4" dy="9.2">2</tspan><tspan dy="-9.2">Cl</tspan><tspan font-size="22.4" dy="9.2">2</tspan></text>
<text class="sf" x="1145" y="1102.5" font-size="33" fill="#f03e46">0.86 V-Ti<tspan font-size="22.4" dy="9.2">3</tspan><tspan dy="-9.2">C</tspan><tspan font-size="22.4" dy="9.2">2</tspan><tspan dy="-9.2">Cl</tspan><tspan font-size="22.4" dy="9.2">2</tspan></text>
<text class="sf" x="1142" y="1276" font-size="33" fill="#0a0a0a">Ti<tspan font-size="22.4" dy="9.2">3</tspan><tspan dy="-9.2">C</tspan><tspan font-size="22.4" dy="9.2">2</tspan><tspan dy="-9.2">Cl</tspan><tspan font-size="22.4" dy="9.2">2</tspan></text>
<text class="sf" x="1872" y="864" font-size="33" fill="#f0737b">Li<tspan font-size="22.4" dy="9.2">2</tspan><tspan dy="-9.2">CO</tspan><tspan font-size="22.4" dy="9.2">3</tspan></text>
<rect x="1130.5" y="777.5" width="849.0" height="629.5" fill="none" stroke="#000" stroke-width="2.7"/>
<rect x="1623" y="776.2" width="68" height="630.8" fill="#e6bcbc" fill-opacity="0.4"/>
<rect x="1820" y="776.2" width="46.7" height="630.8" fill="#e6bcbc" fill-opacity="0.4"/>
<line x1="1191.0" y1="1407" x2="1191.0" y2="1417.5" stroke="#000" stroke-width="2.7"/>
<text class="sf" x="1191.0" y="1457.4" font-size="39" text-anchor="middle">3000</text>
<line x1="1266.7625" y1="1407" x2="1266.7625" y2="1412" stroke="#000" stroke-width="2.7"/>
<line x1="1342.525" y1="1407" x2="1342.525" y2="1417.5" stroke="#000" stroke-width="2.7"/>
<text class="sf" x="1342.525" y="1457.4" font-size="39" text-anchor="middle">2500</text>
<line x1="1418.2875" y1="1407" x2="1418.2875" y2="1412" stroke="#000" stroke-width="2.7"/>
<line x1="1494.05" y1="1407" x2="1494.05" y2="1417.5" stroke="#000" stroke-width="2.7"/>
<text class="sf" x="1494.05" y="1457.4" font-size="39" text-anchor="middle">2000</text>
<line x1="1569.8125" y1="1407" x2="1569.8125" y2="1412" stroke="#000" stroke-width="2.7"/>
<line x1="1645.575" y1="1407" x2="1645.575" y2="1417.5" stroke="#000" stroke-width="2.7"/>
<text class="sf" x="1645.575" y="1457.4" font-size="39" text-anchor="middle">1500</text>
<line x1="1721.3375" y1="1407" x2="1721.3375" y2="1412" stroke="#000" stroke-width="2.7"/>
<line x1="1797.1" y1="1407" x2="1797.1" y2="1417.5" stroke="#000" stroke-width="2.7"/>
<text class="sf" x="1797.1" y="1457.4" font-size="39" text-anchor="middle">1000</text>
<line x1="1872.8625" y1="1407" x2="1872.8625" y2="1412" stroke="#000" stroke-width="2.7"/>
<line x1="1948.625" y1="1407" x2="1948.625" y2="1417.5" stroke="#000" stroke-width="2.7"/>
<text class="sf" x="1948.625" y="1457.4" font-size="39" text-anchor="middle">500</text>
<text class="sf" x="1554.8" y="1503.5" font-size="44" text-anchor="middle" letter-spacing="0.45">Wavenumber (cm<tspan font-size="29" dy="-18">-1</tspan><tspan dy="18">)</tspan></text>
<text class="sf" x="1104.5" y="1092.7" font-size="44.1" text-anchor="middle" transform="rotate(-90 1104.5 1092.7)">Intensity (arb. units)</text>
<text class="ss" font-size="62" transform="translate(1064.5 769.5) scale(1 1.045)">e</text>
</svg>
</body></html>
